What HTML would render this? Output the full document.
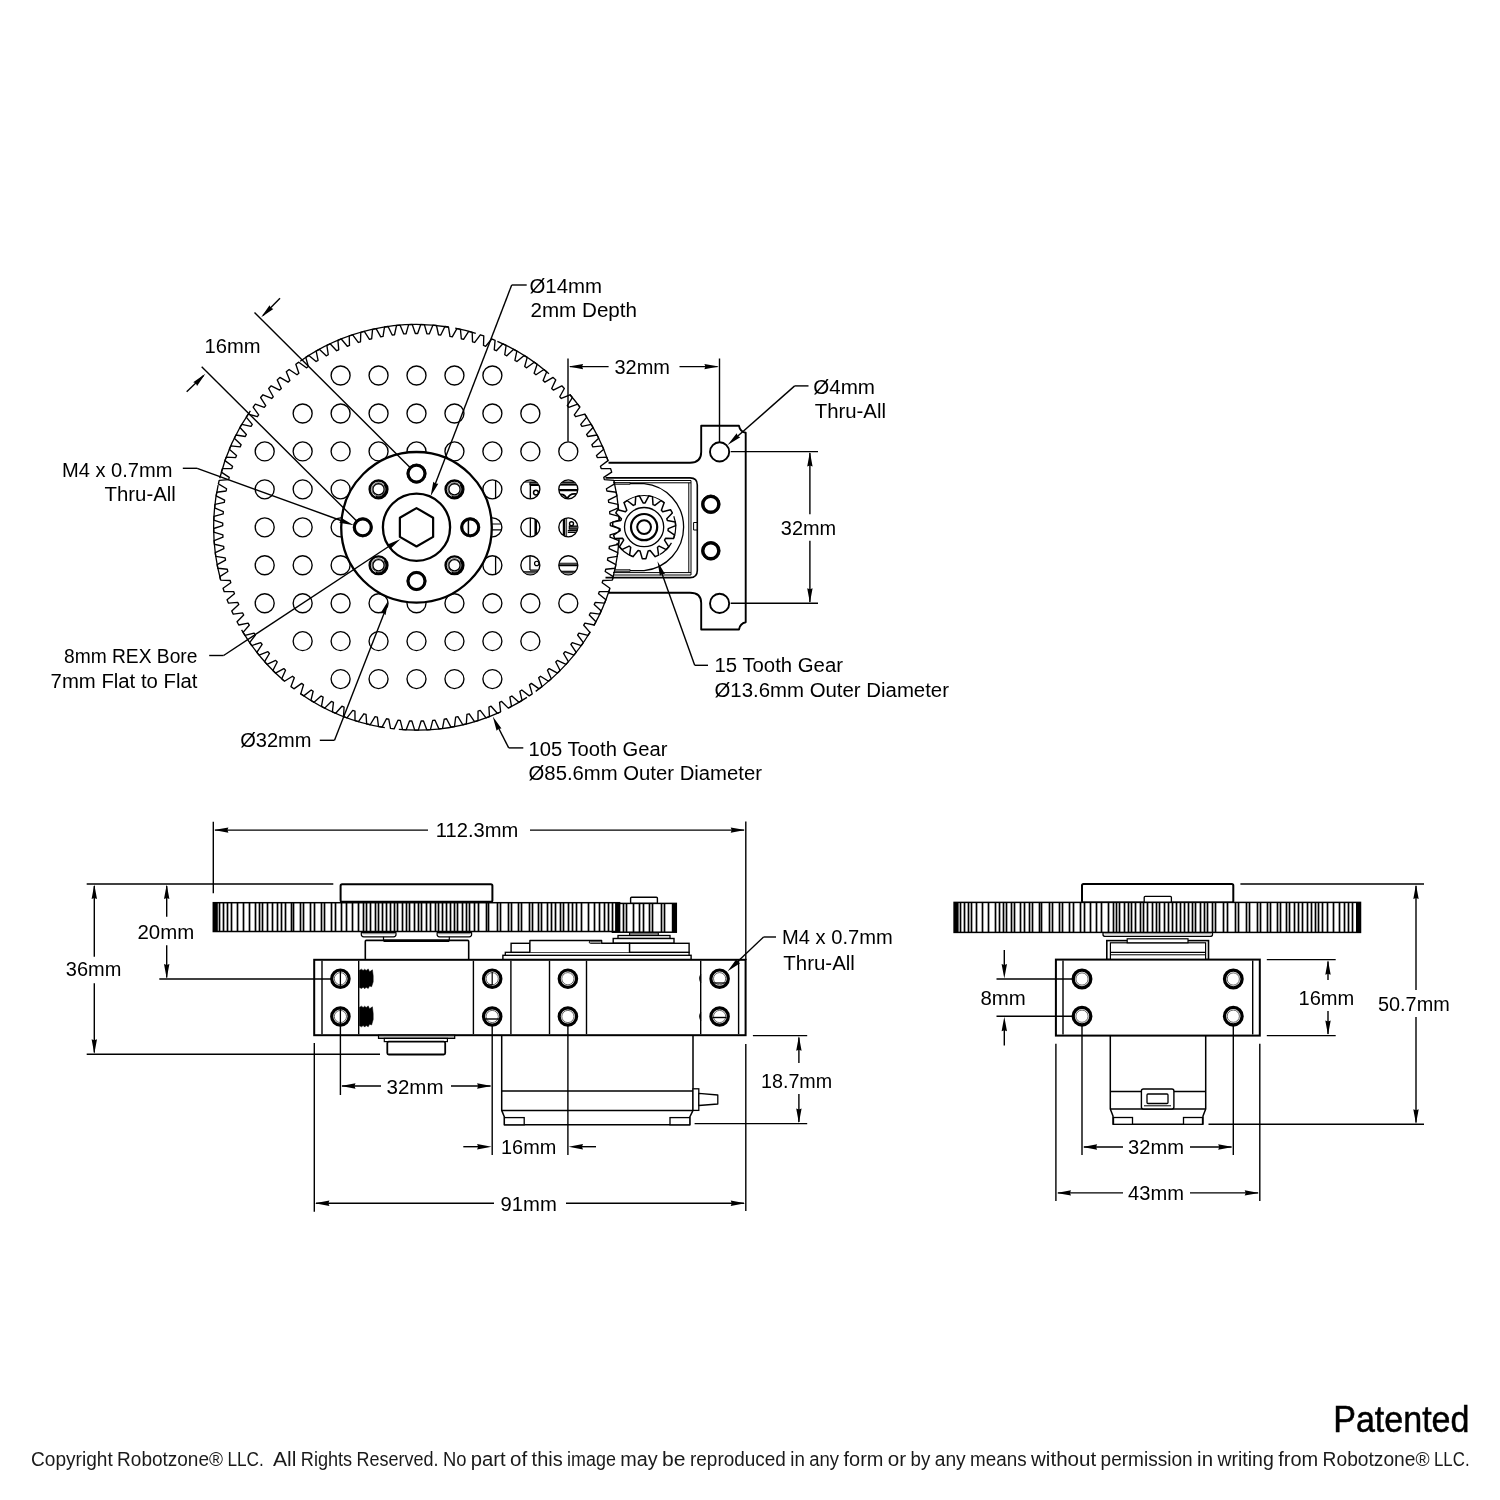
<!DOCTYPE html>
<html><head><meta charset="utf-8"><style>
html,body{margin:0;padding:0;background:#fff;}
svg{display:block;will-change:transform;}
text{-webkit-font-smoothing:antialiased;}
</style></head><body>
<svg width="1500" height="1500" viewBox="0 0 1500 1500">
<rect width="1500" height="1500" fill="#fff"/>
<path d="M417.66 333.5 L420.75 324.54 L424.39 324.65 L426.93 333.78 L429.25 333.92 L432.87 325.16 L436.49 325.49 L438.49 334.75 L440.79 335.03 L444.92 326.5 L448.52 327.04 L449.96 336.41 L452.24 336.82 L456.88 328.56 L460.44 329.32 L461.32 338.75 L463.57 339.3 L468.7 331.33 L472.2 332.3 L472.51 341.77 L474.73 342.46 L480.32 334.8 L483.77 335.98 L483.51 345.45 L485.68 346.27 L491.72 338.97 L495.09 340.35 L494.26 349.79 L496.38 350.73 L502.85 343.8 L506.13 345.38 L504.74 354.75 L506.8 355.82 L513.67 349.29 L516.85 351.07 L514.9 360.34 L516.89 361.53 L524.14 355.42 L527.21 357.38 L524.71 366.52 L526.63 367.83 L534.23 362.17 L537.17 364.31 L534.13 373.28 L535.97 374.7 L543.89 369.5 L546.7 371.82 L543.13 380.59 L544.88 382.12 L553.1 377.4 L555.77 379.88 L551.68 388.43 L553.33 390.06 L561.82 385.84 L564.33 388.47 L559.74 396.76 L561.29 398.49 L570.02 394.79 L572.37 397.56 L567.29 405.56 L568.74 407.38 L577.67 404.2 L579.85 407.12 L574.3 414.8 L575.64 416.7 L584.74 414.06 L586.75 417.1 L580.75 424.44 L581.97 426.41 L591.21 424.33 L593.03 427.48 L586.61 434.44 L587.71 436.49 L597.06 434.96 L598.69 438.22 L591.86 444.78 L592.83 446.89 L602.26 445.92 L603.69 449.27 L596.48 455.42 L597.32 457.58 L606.79 457.18 L608.02 460.61 L600.45 466.31 L601.17 468.52 L610.64 468.68 L611.67 472.18 L603.77 477.42 L604.35 479.67 L613.8 480.4 L614.61 483.95 L606.42 488.71 L606.87 490.99 L616.25 492.28 L616.85 495.87 L608.39 500.14 L608.7 502.44 L617.99 504.29 L618.37 507.91 L609.67 511.66 L609.84 513.97 L619.01 516.38 L619.17 520.02 L610.26 523.24 L610.29 525.56 L619.3 528.51 L619.24 532.15 L610.15 534.84 L610.05 537.15 L618.86 540.64 L618.59 544.27 L609.36 546.4 L609.11 548.71 L617.7 552.72 L617.21 556.33 L607.87 557.9 L607.49 560.19 L615.82 564.7 L615.12 568.28 L605.7 569.29 L605.18 571.55 L613.23 576.56 L612.31 580.08 L602.85 580.53 L602.2 582.76 L609.93 588.23 L608.8 591.7 L599.33 591.58 L598.55 593.77 L605.94 599.69 L604.61 603.08 L595.16 602.4 L594.25 604.53 L601.27 610.89 L599.74 614.2 L590.35 612.95 L589.31 615.02 L595.94 621.79 L594.21 625 L584.91 623.19 L583.75 625.2 L589.97 632.36 L588.05 635.45 L578.88 633.09 L577.6 635.03 L583.37 642.54 L581.28 645.52 L572.26 642.62 L570.87 644.47 L576.18 652.32 L573.91 655.16 L565.08 651.72 L563.58 653.49 L568.42 661.64 L565.99 664.35 L557.38 660.39 L555.77 662.06 L560.12 670.49 L557.52 673.04 L549.17 668.57 L547.47 670.15 L551.3 678.82 L548.55 681.21 L540.48 676.26 L538.69 677.73 L541.99 686.61 L539.11 688.84 L531.35 683.4 L529.47 684.77 L532.24 693.83 L529.23 695.88 L521.81 689.99 L519.85 691.24 L522.07 700.45 L518.95 702.32 L511.89 696 L509.86 697.13 L511.53 706.46 L508.3 708.13 L501.63 701.4 L499.54 702.41 L500.65 711.82 L497.32 713.3 L491.07 706.18 L488.92 707.06 L489.46 716.52 L486.05 717.8 L480.23 710.32 L478.04 711.07 L478.01 720.55 L474.53 721.62 L469.17 713.8 L466.94 714.42 L466.35 723.88 L462.81 724.74 L457.93 716.62 L455.66 717.1 L454.5 726.51 L450.92 727.16 L446.53 718.76 L444.24 719.1 L442.52 728.42 L438.9 728.86 L435.03 720.21 L432.72 720.42 L430.44 729.62 L426.81 729.84 L423.46 720.98 L421.14 721.04 L418.32 730.09 L414.68 730.09 L411.86 721.04 L409.54 720.98 L406.19 729.84 L402.56 729.62 L400.28 720.42 L397.97 720.21 L394.1 728.86 L390.48 728.42 L388.76 719.1 L386.47 718.76 L382.08 727.16 L378.5 726.51 L377.34 717.1 L375.07 716.62 L370.19 724.74 L366.65 723.88 L366.06 714.42 L363.83 713.8 L358.47 721.62 L354.99 720.55 L354.96 711.07 L352.77 710.32 L346.95 717.8 L343.54 716.52 L344.08 707.06 L341.93 706.18 L335.68 713.3 L332.35 711.82 L333.46 702.41 L331.37 701.4 L324.7 708.13 L321.47 706.46 L323.14 697.13 L321.11 696 L314.05 702.32 L310.93 700.45 L313.15 691.24 L311.19 689.99 L303.77 695.88 L300.76 693.83 L303.53 684.77 L301.65 683.4 L293.89 688.84 L291.01 686.61 L294.31 677.73 L292.52 676.26 L284.45 681.21 L281.7 678.82 L285.53 670.15 L283.83 668.57 L275.48 673.04 L272.88 670.49 L277.23 662.06 L275.62 660.39 L267.01 664.35 L264.58 661.64 L269.42 653.49 L267.92 651.72 L259.09 655.16 L256.82 652.32 L262.13 644.47 L260.74 642.62 L251.72 645.52 L249.63 642.54 L255.4 635.03 L254.12 633.09 L244.95 635.45 L243.03 632.36 L249.25 625.2 L248.09 623.19 L238.79 625 L237.06 621.79 L243.69 615.02 L242.65 612.95 L233.26 614.2 L231.73 610.89 L238.75 604.53 L237.84 602.4 L228.39 603.08 L227.06 599.69 L234.45 593.77 L233.67 591.58 L224.2 591.7 L223.07 588.23 L230.8 582.76 L230.15 580.53 L220.69 580.08 L219.77 576.56 L227.82 571.55 L227.3 569.29 L217.88 568.28 L217.18 564.7 L225.51 560.19 L225.13 557.9 L215.79 556.33 L215.3 552.72 L223.89 548.71 L223.64 546.4 L214.41 544.27 L214.14 540.64 L222.95 537.15 L222.85 534.84 L213.76 532.15 L213.7 528.51 L222.71 525.56 L222.74 523.24 L213.83 520.02 L213.99 516.38 L223.16 513.97 L223.33 511.66 L214.63 507.91 L215.01 504.29 L224.3 502.44 L224.61 500.14 L216.15 495.87 L216.75 492.28 L226.13 490.99 L226.58 488.71 L218.39 483.95 L219.2 480.4 L228.65 479.67 L229.23 477.42 L221.33 472.18 L222.36 468.68 L231.83 468.52 L232.55 466.31 L224.98 460.61 L226.21 457.18 L235.68 457.58 L236.52 455.42 L229.31 449.27 L230.74 445.92 L240.17 446.89 L241.14 444.78 L234.31 438.22 L235.94 434.96 L245.29 436.49 L246.39 434.44 L239.97 427.48 L241.79 424.33 L251.03 426.41 L252.25 424.44 L246.25 417.1 L248.26 414.06 L257.36 416.7 L258.7 414.8 L253.15 407.12 L255.33 404.2 L264.26 407.38 L265.71 405.56 L260.63 397.56 L262.98 394.79 L271.71 398.49 L273.26 396.76 L268.67 388.47 L271.18 385.84 L279.67 390.06 L281.32 388.43 L277.23 379.88 L279.9 377.4 L288.12 382.12 L289.87 380.59 L286.3 371.82 L289.11 369.5 L297.03 374.7 L298.87 373.28 L295.83 364.31 L298.77 362.17 L306.37 367.83 L308.29 366.52 L305.79 357.38 L308.86 355.42 L316.11 361.53 L318.1 360.34 L316.15 351.07 L319.33 349.29 L326.2 355.82 L328.26 354.75 L326.87 345.38 L330.15 343.8 L336.62 350.73 L338.74 349.79 L337.91 340.35 L341.28 338.97 L347.32 346.27 L349.49 345.45 L349.23 335.98 L352.68 334.8 L358.27 342.46 L360.49 341.77 L360.8 332.3 L364.3 331.33 L369.43 339.3 L371.68 338.75 L372.56 329.32 L376.12 328.56 L380.76 336.82 L383.04 336.41 L384.48 327.04 L388.08 326.5 L392.21 335.03 L394.51 334.75 L396.51 325.49 L400.13 325.16 L403.75 333.92 L406.07 333.78 L408.61 324.65 L412.25 324.54 L415.34 333.5 Z" fill="#fff" stroke="#000" stroke-width="1.35" stroke-linejoin="round"/>
<path d="M219.72 478.24 A202.8 202.8 0 0 1 250.38 410.98" fill="none" stroke="#000" stroke-width="1.3"/>
<path d="M300.18 361.18 A202.8 202.8 0 0 1 448.22 327" fill="none" stroke="#000" stroke-width="1.3"/>
<path d="M455.2 328.23 A202.8 202.8 0 0 1 475.79 333.36" fill="none" stroke="#000" stroke-width="1.3"/>
<path d="M497.37 341.32 A202.8 202.8 0 0 1 549.01 373.78" fill="none" stroke="#000" stroke-width="1.3"/>
<path d="M569.79 394.52 A202.8 202.8 0 0 1 579.94 407.24" fill="none" stroke="#000" stroke-width="1.3"/>
<path d="M584.63 413.9 A202.8 202.8 0 0 1 608.14 460.94" fill="none" stroke="#000" stroke-width="1.3"/>
<path d="M614.1 481.68 A202.8 202.8 0 0 1 612.39 579.79" fill="none" stroke="#000" stroke-width="1.3"/>
<path d="M609.37 589.97 A202.8 202.8 0 0 1 593.87 625.62" fill="none" stroke="#000" stroke-width="1.3"/>
<path d="M590.33 631.75 A202.8 202.8 0 0 1 535.7 691.37" fill="none" stroke="#000" stroke-width="1.3"/>
<path d="M526.95 697.38 A202.8 202.8 0 0 1 508.57 708" fill="none" stroke="#000" stroke-width="1.3"/>
<path d="M498.99 712.57 A202.8 202.8 0 0 1 398.82 729.33" fill="none" stroke="#000" stroke-width="1.3"/>
<path d="M384.78 727.6 A202.8 202.8 0 0 1 300.18 693.42" fill="none" stroke="#000" stroke-width="1.3"/>
<path d="M283.45 680.36 A202.8 202.8 0 0 1 241.58 629.92" fill="none" stroke="#000" stroke-width="1.3"/>
<path d="M220.61 579.79 A202.8 202.8 0 0 1 218.13 485.14" fill="none" stroke="#000" stroke-width="1.3"/>
<circle cx="340.6" cy="375.5" r="9.5" fill="none" stroke="#000" stroke-width="1.35"/>
<circle cx="378.55" cy="375.5" r="9.5" fill="none" stroke="#000" stroke-width="1.35"/>
<circle cx="416.5" cy="375.5" r="9.5" fill="none" stroke="#000" stroke-width="1.35"/>
<circle cx="454.45" cy="375.5" r="9.5" fill="none" stroke="#000" stroke-width="1.35"/>
<circle cx="492.4" cy="375.5" r="9.5" fill="none" stroke="#000" stroke-width="1.35"/>
<circle cx="302.65" cy="413.45" r="9.5" fill="none" stroke="#000" stroke-width="1.35"/>
<circle cx="340.6" cy="413.45" r="9.5" fill="none" stroke="#000" stroke-width="1.35"/>
<circle cx="378.55" cy="413.45" r="9.5" fill="none" stroke="#000" stroke-width="1.35"/>
<circle cx="416.5" cy="413.45" r="9.5" fill="none" stroke="#000" stroke-width="1.35"/>
<circle cx="454.45" cy="413.45" r="9.5" fill="none" stroke="#000" stroke-width="1.35"/>
<circle cx="492.4" cy="413.45" r="9.5" fill="none" stroke="#000" stroke-width="1.35"/>
<circle cx="530.35" cy="413.45" r="9.5" fill="none" stroke="#000" stroke-width="1.35"/>
<circle cx="264.7" cy="451.4" r="9.5" fill="none" stroke="#000" stroke-width="1.35"/>
<circle cx="302.65" cy="451.4" r="9.5" fill="none" stroke="#000" stroke-width="1.35"/>
<circle cx="340.6" cy="451.4" r="9.5" fill="none" stroke="#000" stroke-width="1.35"/>
<circle cx="378.55" cy="451.4" r="9.5" fill="none" stroke="#000" stroke-width="1.35"/>
<circle cx="416.5" cy="451.4" r="9.5" fill="none" stroke="#000" stroke-width="1.35"/>
<circle cx="454.45" cy="451.4" r="9.5" fill="none" stroke="#000" stroke-width="1.35"/>
<circle cx="492.4" cy="451.4" r="9.5" fill="none" stroke="#000" stroke-width="1.35"/>
<circle cx="530.35" cy="451.4" r="9.5" fill="none" stroke="#000" stroke-width="1.35"/>
<circle cx="568.3" cy="451.4" r="9.5" fill="none" stroke="#000" stroke-width="1.35"/>
<circle cx="264.7" cy="489.35" r="9.5" fill="none" stroke="#000" stroke-width="1.35"/>
<circle cx="302.65" cy="489.35" r="9.5" fill="none" stroke="#000" stroke-width="1.35"/>
<circle cx="340.6" cy="489.35" r="9.5" fill="none" stroke="#000" stroke-width="1.35"/>
<circle cx="378.55" cy="489.35" r="9.5" fill="none" stroke="#000" stroke-width="1.35"/>
<circle cx="416.5" cy="489.35" r="9.5" fill="none" stroke="#000" stroke-width="1.35"/>
<circle cx="454.45" cy="489.35" r="9.5" fill="none" stroke="#000" stroke-width="1.35"/>
<circle cx="492.4" cy="489.35" r="9.5" fill="none" stroke="#000" stroke-width="1.35"/>
<circle cx="530.35" cy="489.35" r="9.5" fill="none" stroke="#000" stroke-width="1.35"/>
<circle cx="568.3" cy="489.35" r="9.5" fill="none" stroke="#000" stroke-width="1.35"/>
<circle cx="264.7" cy="527.3" r="9.5" fill="none" stroke="#000" stroke-width="1.35"/>
<circle cx="302.65" cy="527.3" r="9.5" fill="none" stroke="#000" stroke-width="1.35"/>
<circle cx="340.6" cy="527.3" r="9.5" fill="none" stroke="#000" stroke-width="1.35"/>
<circle cx="378.55" cy="527.3" r="9.5" fill="none" stroke="#000" stroke-width="1.35"/>
<circle cx="416.5" cy="527.3" r="9.5" fill="none" stroke="#000" stroke-width="1.35"/>
<circle cx="454.45" cy="527.3" r="9.5" fill="none" stroke="#000" stroke-width="1.35"/>
<circle cx="492.4" cy="527.3" r="9.5" fill="none" stroke="#000" stroke-width="1.35"/>
<circle cx="530.35" cy="527.3" r="9.5" fill="none" stroke="#000" stroke-width="1.35"/>
<circle cx="568.3" cy="527.3" r="9.5" fill="none" stroke="#000" stroke-width="1.35"/>
<circle cx="264.7" cy="565.25" r="9.5" fill="none" stroke="#000" stroke-width="1.35"/>
<circle cx="302.65" cy="565.25" r="9.5" fill="none" stroke="#000" stroke-width="1.35"/>
<circle cx="340.6" cy="565.25" r="9.5" fill="none" stroke="#000" stroke-width="1.35"/>
<circle cx="378.55" cy="565.25" r="9.5" fill="none" stroke="#000" stroke-width="1.35"/>
<circle cx="416.5" cy="565.25" r="9.5" fill="none" stroke="#000" stroke-width="1.35"/>
<circle cx="454.45" cy="565.25" r="9.5" fill="none" stroke="#000" stroke-width="1.35"/>
<circle cx="492.4" cy="565.25" r="9.5" fill="none" stroke="#000" stroke-width="1.35"/>
<circle cx="530.35" cy="565.25" r="9.5" fill="none" stroke="#000" stroke-width="1.35"/>
<circle cx="568.3" cy="565.25" r="9.5" fill="none" stroke="#000" stroke-width="1.35"/>
<circle cx="264.7" cy="603.2" r="9.5" fill="none" stroke="#000" stroke-width="1.35"/>
<circle cx="302.65" cy="603.2" r="9.5" fill="none" stroke="#000" stroke-width="1.35"/>
<circle cx="340.6" cy="603.2" r="9.5" fill="none" stroke="#000" stroke-width="1.35"/>
<circle cx="378.55" cy="603.2" r="9.5" fill="none" stroke="#000" stroke-width="1.35"/>
<circle cx="416.5" cy="603.2" r="9.5" fill="none" stroke="#000" stroke-width="1.35"/>
<circle cx="454.45" cy="603.2" r="9.5" fill="none" stroke="#000" stroke-width="1.35"/>
<circle cx="492.4" cy="603.2" r="9.5" fill="none" stroke="#000" stroke-width="1.35"/>
<circle cx="530.35" cy="603.2" r="9.5" fill="none" stroke="#000" stroke-width="1.35"/>
<circle cx="568.3" cy="603.2" r="9.5" fill="none" stroke="#000" stroke-width="1.35"/>
<circle cx="302.65" cy="641.15" r="9.5" fill="none" stroke="#000" stroke-width="1.35"/>
<circle cx="340.6" cy="641.15" r="9.5" fill="none" stroke="#000" stroke-width="1.35"/>
<circle cx="378.55" cy="641.15" r="9.5" fill="none" stroke="#000" stroke-width="1.35"/>
<circle cx="416.5" cy="641.15" r="9.5" fill="none" stroke="#000" stroke-width="1.35"/>
<circle cx="454.45" cy="641.15" r="9.5" fill="none" stroke="#000" stroke-width="1.35"/>
<circle cx="492.4" cy="641.15" r="9.5" fill="none" stroke="#000" stroke-width="1.35"/>
<circle cx="530.35" cy="641.15" r="9.5" fill="none" stroke="#000" stroke-width="1.35"/>
<circle cx="340.6" cy="679.1" r="9.5" fill="none" stroke="#000" stroke-width="1.35"/>
<circle cx="378.55" cy="679.1" r="9.5" fill="none" stroke="#000" stroke-width="1.35"/>
<circle cx="416.5" cy="679.1" r="9.5" fill="none" stroke="#000" stroke-width="1.35"/>
<circle cx="454.45" cy="679.1" r="9.5" fill="none" stroke="#000" stroke-width="1.35"/>
<circle cx="492.4" cy="679.1" r="9.5" fill="none" stroke="#000" stroke-width="1.35"/>
<defs>
<clipPath id="h20"><circle cx="492.4" cy="489.35" r="9.3"/></clipPath>
<clipPath id="h30"><circle cx="530.35" cy="489.35" r="9.3"/></clipPath>
<clipPath id="h40"><circle cx="568.3" cy="489.35" r="9.3"/></clipPath>
<clipPath id="h21"><circle cx="492.4" cy="527.3" r="9.3"/></clipPath>
<clipPath id="h31"><circle cx="530.35" cy="527.3" r="9.3"/></clipPath>
<clipPath id="h41"><circle cx="568.3" cy="527.3" r="9.3"/></clipPath>
<clipPath id="h22"><circle cx="492.4" cy="565.25" r="9.3"/></clipPath>
<clipPath id="h32"><circle cx="530.35" cy="565.25" r="9.3"/></clipPath>
<clipPath id="h42"><circle cx="568.3" cy="565.25" r="9.3"/></clipPath>
</defs>
<g clip-path="url(#h20)">
<line x1="495.6" y1="477.35" x2="495.6" y2="501.35" stroke="#000" stroke-width="1.3"/>
</g>
<g clip-path="url(#h22)">
<line x1="495.6" y1="553.25" x2="495.6" y2="577.25" stroke="#000" stroke-width="1.3"/>
</g>
<g clip-path="url(#h21)">
<line x1="482.4" y1="524" x2="504.4" y2="524" stroke="#000" stroke-width="1.2"/>
<line x1="482.4" y1="529.9" x2="504.4" y2="529.9" stroke="#000" stroke-width="1.2"/>
</g>
<g clip-path="url(#h30)">
<line x1="518.35" y1="482.05" x2="542.35" y2="482.05" stroke="#000" stroke-width="1.1"/>
<rect x="529.95" y="482.75" width="12.4" height="1.9" rx="0" fill="#8a8a8a" stroke="#000" stroke-width="1.2"/>
<line x1="529.95" y1="485.15" x2="542.35" y2="485.15" stroke="#000" stroke-width="1.6"/>
<line x1="530.35" y1="485.15" x2="530.35" y2="501.35" stroke="#000" stroke-width="1.4"/>
</g>
<circle cx="535.95" cy="492.55" r="2.4" fill="none" stroke="#000" stroke-width="1.5"/>
<g clip-path="url(#h31)">
<line x1="530.35" y1="515.3" x2="530.35" y2="539.3" stroke="#000" stroke-width="1.3"/>
<line x1="535.75" y1="515.3" x2="535.75" y2="539.3" stroke="#000" stroke-width="2.6"/>
</g>
<g clip-path="url(#h32)">
<line x1="529.95" y1="553.25" x2="529.95" y2="570.05" stroke="#000" stroke-width="1.3"/>
<line x1="529.95" y1="570.05" x2="542.35" y2="570.05" stroke="#000" stroke-width="1.3"/>
<rect x="518.35" y="571.85" width="24" height="5.4" rx="0" fill="#8a8a8a" stroke="#000" stroke-width="1.2"/>
</g>
<circle cx="536.75" cy="563.45" r="2.2" fill="none" stroke="#000" stroke-width="1.2"/>
<g clip-path="url(#h40)">
<line x1="556.3" y1="482.05" x2="580.3" y2="482.05" stroke="#000" stroke-width="1.1"/>
<rect x="556.3" y="482.75" width="24" height="1.9" rx="0" fill="#8a8a8a" stroke="#000" stroke-width="1.2"/>
<line x1="556.3" y1="484.95" x2="580.3" y2="484.95" stroke="#000" stroke-width="1.2"/>
<line x1="556.3" y1="490.1" x2="580.3" y2="490.1" stroke="#000" stroke-width="2.4"/>
</g>
<g clip-path="url(#h40)"><path d="M558.3 494.85 Q564.3 492.85 567.1 499.15 Q569.3 493.35 575.3 493.85 L578.3 496.35" fill="none" stroke="#000" stroke-width="1.8"/></g>
<g clip-path="url(#h41)">
<line x1="564.1" y1="515.3" x2="564.1" y2="539.3" stroke="#000" stroke-width="2.6"/>
<line x1="566.6" y1="515.3" x2="566.6" y2="539.3" stroke="#000" stroke-width="0.8"/>
<line x1="567.8" y1="530.5" x2="580.3" y2="530.5" stroke="#000" stroke-width="1.0"/>
<line x1="567.8" y1="532.2" x2="580.3" y2="532.2" stroke="#000" stroke-width="1.5"/>
<rect x="569.3" y="526.1" width="11" height="3" rx="0" fill="#555" stroke="#000" stroke-width="1.2"/>
</g>
<circle cx="571.5" cy="523.7" r="2" fill="none" stroke="#000" stroke-width="1.4"/>
<g clip-path="url(#h42)">
<line x1="556.3" y1="563.25" x2="580.3" y2="563.25" stroke="#000" stroke-width="1.1"/>
<line x1="556.3" y1="565.25" x2="580.3" y2="565.25" stroke="#000" stroke-width="2.2"/>
<line x1="556.3" y1="571.25" x2="580.3" y2="571.25" stroke="#000" stroke-width="1.2"/>
<rect x="556.3" y="572.05" width="24" height="5.2" rx="0" fill="#8a8a8a" stroke="#000" stroke-width="1.2"/>
</g>
<circle cx="416.5" cy="527.3" r="75.3" fill="#fff" stroke="#000" stroke-width="2.3"/>
<circle cx="416.5" cy="527.3" r="33.6" fill="none" stroke="#000" stroke-width="2.3"/>
<path d="M416.5 508.1 L433.13 517.7 L433.13 536.9 L416.5 546.5 L399.87 536.9 L399.87 517.7 Z" fill="none" stroke="#000" stroke-width="2.2" stroke-linejoin="round"/>
<circle cx="470.2" cy="527.3" r="8.4" fill="none" stroke="#000" stroke-width="3.0"/>
<circle cx="470.2" cy="527.3" r="9.6" fill="none" stroke="#000" stroke-width="0.8"/>
<line x1="468.4" y1="520.3" x2="468.4" y2="534.3" stroke="#000" stroke-width="1.5"/>
<circle cx="454.47" cy="565.27" r="8.9" fill="none" stroke="#000" stroke-width="2.4"/>
<circle cx="454.47" cy="565.27" r="5.6" fill="none" stroke="#000" stroke-width="1.3"/>
<circle cx="454.47" cy="565.27" r="6.7" fill="none" stroke="#000" stroke-width="0.6"/>
<path d="M460.52 560.19 A7.9 7.9 0 0 1 451.77 572.7" fill="none" stroke="#000" stroke-width="2.2"/>
<circle cx="416.5" cy="581" r="8.4" fill="none" stroke="#000" stroke-width="3.0"/>
<circle cx="416.5" cy="581" r="9.6" fill="none" stroke="#000" stroke-width="0.8"/>
<circle cx="378.53" cy="565.27" r="8.9" fill="none" stroke="#000" stroke-width="2.4"/>
<circle cx="378.53" cy="565.27" r="5.6" fill="none" stroke="#000" stroke-width="1.3"/>
<circle cx="378.53" cy="565.27" r="6.7" fill="none" stroke="#000" stroke-width="0.6"/>
<path d="M384.58 560.19 A7.9 7.9 0 0 1 375.83 572.7" fill="none" stroke="#000" stroke-width="2.2"/>
<circle cx="362.8" cy="527.3" r="8.4" fill="none" stroke="#000" stroke-width="3.0"/>
<circle cx="362.8" cy="527.3" r="9.6" fill="none" stroke="#000" stroke-width="0.8"/>
<circle cx="378.53" cy="489.33" r="8.9" fill="none" stroke="#000" stroke-width="2.4"/>
<circle cx="378.53" cy="489.33" r="5.6" fill="none" stroke="#000" stroke-width="1.3"/>
<circle cx="378.53" cy="489.33" r="6.7" fill="none" stroke="#000" stroke-width="0.6"/>
<path d="M384.58 484.25 A7.9 7.9 0 0 1 375.83 496.75" fill="none" stroke="#000" stroke-width="2.2"/>
<circle cx="416.5" cy="473.6" r="8.4" fill="none" stroke="#000" stroke-width="3.0"/>
<circle cx="416.5" cy="473.6" r="9.6" fill="none" stroke="#000" stroke-width="0.8"/>
<circle cx="454.47" cy="489.33" r="8.9" fill="none" stroke="#000" stroke-width="2.4"/>
<circle cx="454.47" cy="489.33" r="5.6" fill="none" stroke="#000" stroke-width="1.3"/>
<circle cx="454.47" cy="489.33" r="6.7" fill="none" stroke="#000" stroke-width="0.6"/>
<path d="M460.52 484.25 A7.9 7.9 0 0 1 451.77 496.75" fill="none" stroke="#000" stroke-width="2.2"/>
<path d="M608.5 462.7 L690 462.7 Q701.2 462.7 701.2 452 L701.2 425.8 L739 425.8 Q740 431.5 745.7 432.8 L745.7 622.3 Q740 623.5 739 629.5 L701.2 629.5 L701.2 603 Q701.2 592.7 690 592.7 L608.5 592.7" fill="none" stroke="#000" stroke-width="1.9" stroke-linejoin="round"/>
<path d="M605.5 477.9 L690 477.9 Q697.3 477.9 697.3 485 L697.3 570.5 Q697.3 577.6 690 577.6 L605.5 577.6" fill="none" stroke="#000" stroke-width="1.6" stroke-linejoin="round"/>
<line x1="613" y1="480.5" x2="691" y2="480.5" stroke="#000" stroke-width="1.0"/>
<line x1="613" y1="482.8" x2="691" y2="482.8" stroke="#000" stroke-width="1.0"/>
<line x1="613" y1="572.6" x2="691" y2="572.6" stroke="#000" stroke-width="1.0"/>
<line x1="613" y1="575" x2="691" y2="575" stroke="#000" stroke-width="1.0"/>
<line x1="688.8" y1="482.8" x2="688.8" y2="572.6" stroke="#000" stroke-width="1.0"/>
<line x1="691" y1="480.5" x2="691" y2="575" stroke="#000" stroke-width="1.0"/>
<line x1="693.6" y1="522.5" x2="697" y2="522.5" stroke="#000" stroke-width="1.0"/>
<line x1="693.6" y1="530" x2="697" y2="530" stroke="#000" stroke-width="1.0"/>
<line x1="693.6" y1="522.5" x2="693.6" y2="530" stroke="#000" stroke-width="1.0"/>
<path d="M629 483.6 L644.1 483.6 A43.7 43.7 0 0 1 644.1 570.6 L629 570.6" fill="none" stroke="#000" stroke-width="1.3"/>
<rect x="615" y="482.6" width="15" height="2" rx="0" fill="#888" stroke="#000" stroke-width="0.6"/>
<rect x="615" y="569.6" width="15" height="2" rx="0" fill="#888" stroke="#000" stroke-width="0.6"/>
<path d="M645.11 502.92 L648.85 495.86 L652.47 496.63 L653.01 504.6 L654.86 505.42 L661.14 500.49 L664.14 502.67 L661.39 510.17 L662.75 511.67 L670.49 509.72 L672.35 512.93 L666.78 518.66 L667.41 520.59 L675.28 521.96 L675.67 525.64 L668.25 528.62 L668.04 530.64 L674.67 535.09 L673.53 538.61 L665.55 538.31 L664.53 540.07 L668.78 546.83 L666.3 549.58 L659.13 546.07 L657.49 547.26 L658.62 555.17 L655.24 556.67 L650.12 550.54 L648.14 550.96 L645.95 558.65 L642.25 558.65 L640.06 550.96 L638.08 550.54 L632.96 556.67 L629.58 555.17 L630.71 547.26 L629.07 546.07 L621.9 549.58 L619.42 546.83 L623.67 540.07 L622.65 538.31 L614.67 538.61 L613.53 535.09 L620.16 530.64 L619.95 528.62 L612.53 525.64 L612.92 521.96 L620.79 520.59 L621.42 518.66 L615.85 512.93 L617.71 509.72 L625.45 511.67 L626.81 510.17 L624.06 502.67 L627.06 500.49 L633.34 505.42 L635.19 504.6 L635.73 496.63 L639.35 495.86 L643.09 502.92 Z" fill="#fff" stroke="#000" stroke-width="1.5" stroke-linejoin="round"/>
<path d="M623.79 502.89 A31.6 31.6 0 0 1 664.41 502.89" fill="none" stroke="#000" stroke-width="1.2"/>
<path d="M673.79 516.29 A31.6 31.6 0 0 1 673.79 537.91" fill="none" stroke="#000" stroke-width="1.2"/>
<path d="M671.47 542.9 A31.6 31.6 0 0 1 659.9 554.47" fill="none" stroke="#000" stroke-width="1.2"/>
<path d="M633.29 556.79 A31.6 31.6 0 0 1 616.73 542.9" fill="none" stroke="#000" stroke-width="1.2"/>
<circle cx="644.1" cy="527.1" r="19.6" fill="none" stroke="#000" stroke-width="1.3"/>
<circle cx="644.1" cy="527.1" r="13.1" fill="none" stroke="#000" stroke-width="2.2"/>
<circle cx="644.1" cy="527.1" r="6.9" fill="none" stroke="#000" stroke-width="2.0"/>
<circle cx="719.6" cy="451.9" r="9.6" fill="none" stroke="#000" stroke-width="1.9"/>
<circle cx="719.6" cy="603.4" r="9.6" fill="none" stroke="#000" stroke-width="1.9"/>
<circle cx="710.8" cy="504.3" r="7.9" fill="none" stroke="#000" stroke-width="3.2"/>
<circle cx="710.8" cy="504.3" r="9.3" fill="none" stroke="#000" stroke-width="0.8"/>
<circle cx="710.8" cy="550.8" r="7.9" fill="none" stroke="#000" stroke-width="3.2"/>
<circle cx="710.8" cy="550.8" r="9.3" fill="none" stroke="#000" stroke-width="0.8"/>
<line x1="526.7" y1="285" x2="511.7" y2="285" stroke="#000" stroke-width="1.4"/>
<line x1="511.7" y1="285" x2="433.5" y2="488.6" stroke="#000" stroke-width="1.4"/>
<path d="M430.6 496.2 L433.29 481.7 L435.45 483.62 L438.33 483.64 Z" fill="#000" stroke="none"/>
<text x="529.5" y="292.5" font-size="20" font-family="Liberation Sans" fill="#000" font-weight="normal" text-anchor="start" textLength="72.5" lengthAdjust="spacingAndGlyphs">Ø14mm</text>
<text x="530.5" y="317" font-size="20" font-family="Liberation Sans" fill="#000" font-weight="normal" text-anchor="start" textLength="106.5" lengthAdjust="spacingAndGlyphs">2mm Depth</text>
<line x1="254.5" y1="312.5" x2="410.8" y2="468.2" stroke="#000" stroke-width="1.4"/>
<line x1="201.7" y1="366.7" x2="357.4" y2="521.7" stroke="#000" stroke-width="1.4"/>
<line x1="280" y1="298.3" x2="263" y2="315.5" stroke="#000" stroke-width="1.4"/>
<path d="M261.2 317.3 L269.54 305.14 L270.74 307.76 L273.36 308.96 Z" fill="#000" stroke="none"/>
<line x1="186.7" y1="391.7" x2="203.6" y2="375.6" stroke="#000" stroke-width="1.4"/>
<path d="M205.4 373.8 L197.06 385.96 L195.86 383.34 L193.24 382.14 Z" fill="#000" stroke="none"/>
<text x="204.5" y="352.5" font-size="20" font-family="Liberation Sans" fill="#000" font-weight="normal" text-anchor="start" textLength="56" lengthAdjust="spacingAndGlyphs">16mm</text>
<line x1="568" y1="358.5" x2="568" y2="441.5" stroke="#000" stroke-width="1.4"/>
<line x1="719.5" y1="358.5" x2="719.5" y2="442.2" stroke="#000" stroke-width="1.4"/>
<line x1="570" y1="366.6" x2="608.6" y2="366.6" stroke="#000" stroke-width="1.4"/>
<path d="M568.6 366.6 L583.1 363.9 L582.09 366.6 L583.1 369.3 Z" fill="#000" stroke="none"/>
<line x1="679.5" y1="366.6" x2="717.5" y2="366.6" stroke="#000" stroke-width="1.4"/>
<path d="M718.9 366.6 L704.4 369.3 L705.41 366.6 L704.4 363.9 Z" fill="#000" stroke="none"/>
<text x="614.5" y="374" font-size="20" font-family="Liberation Sans" fill="#000" font-weight="normal" text-anchor="start" textLength="55.5" lengthAdjust="spacingAndGlyphs">32mm</text>
<line x1="808.5" y1="385.9" x2="794.7" y2="385.9" stroke="#000" stroke-width="1.4"/>
<line x1="794.7" y1="385.9" x2="735" y2="438.5" stroke="#000" stroke-width="1.4"/>
<path d="M727.6 444.9 L736.71 433.3 L737.73 436 L740.27 437.35 Z" fill="#000" stroke="none"/>
<text x="813.2" y="393.5" font-size="20" font-family="Liberation Sans" fill="#000" font-weight="normal" text-anchor="start" textLength="61.8" lengthAdjust="spacingAndGlyphs">Ø4mm</text>
<text x="814.7" y="418.2" font-size="20" font-family="Liberation Sans" fill="#000" font-weight="normal" text-anchor="start" textLength="71.3" lengthAdjust="spacingAndGlyphs">Thru-All</text>
<line x1="730.7" y1="451.6" x2="818" y2="451.6" stroke="#000" stroke-width="1.4"/>
<line x1="730.7" y1="603.3" x2="818" y2="603.3" stroke="#000" stroke-width="1.4"/>
<line x1="809.9" y1="453" x2="809.9" y2="514.2" stroke="#000" stroke-width="1.4"/>
<path d="M809.9 452 L812.6 466.5 L809.9 465.49 L807.2 466.5 Z" fill="#000" stroke="none"/>
<line x1="809.9" y1="540.8" x2="809.9" y2="602" stroke="#000" stroke-width="1.4"/>
<path d="M809.9 602.8 L807.2 588.3 L809.9 589.31 L812.6 588.3 Z" fill="#000" stroke="none"/>
<text x="780.8" y="535" font-size="20" font-family="Liberation Sans" fill="#000" font-weight="normal" text-anchor="start" textLength="55.4" lengthAdjust="spacingAndGlyphs">32mm</text>
<text x="62" y="476.7" font-size="20" font-family="Liberation Sans" fill="#000" font-weight="normal" text-anchor="start" textLength="110.5" lengthAdjust="spacingAndGlyphs">M4 x 0.7mm</text>
<text x="104.5" y="501.3" font-size="20" font-family="Liberation Sans" fill="#000" font-weight="normal" text-anchor="start" textLength="71.3" lengthAdjust="spacingAndGlyphs">Thru-All</text>
<line x1="182.8" y1="468.3" x2="197.2" y2="468.3" stroke="#000" stroke-width="1.4"/>
<line x1="197.2" y1="468.3" x2="345" y2="522" stroke="#000" stroke-width="1.4"/>
<path d="M353.8 525.2 L339.25 522.79 L341.13 520.59 L341.09 517.71 Z" fill="#000" stroke="none"/>
<text x="64" y="662.8" font-size="20" font-family="Liberation Sans" fill="#000" font-weight="normal" text-anchor="start" textLength="133.4" lengthAdjust="spacingAndGlyphs">8mm REX Bore</text>
<text x="50.6" y="687.8" font-size="20" font-family="Liberation Sans" fill="#000" font-weight="normal" text-anchor="start" textLength="146.8" lengthAdjust="spacingAndGlyphs">7mm Flat to Flat</text>
<line x1="209.2" y1="655.5" x2="223.6" y2="655.5" stroke="#000" stroke-width="1.4"/>
<line x1="223.6" y1="655.5" x2="394" y2="543" stroke="#000" stroke-width="1.4"/>
<path d="M400.6 538.9 L389.98 549.13 L389.34 546.32 L387.01 544.63 Z" fill="#000" stroke="none"/>
<text x="240.2" y="747.4" font-size="20" font-family="Liberation Sans" fill="#000" font-weight="normal" text-anchor="start" textLength="71.3" lengthAdjust="spacingAndGlyphs">Ø32mm</text>
<line x1="319.8" y1="740.3" x2="334.5" y2="740.3" stroke="#000" stroke-width="1.4"/>
<line x1="334.5" y1="740.3" x2="384.2" y2="613" stroke="#000" stroke-width="1.4"/>
<path d="M388.3 600.6 L385.55 615.09 L383.4 613.16 L380.52 613.13 Z" fill="#000" stroke="none"/>
<text x="714.5" y="672.2" font-size="20" font-family="Liberation Sans" fill="#000" font-weight="normal" text-anchor="start" textLength="128.5" lengthAdjust="spacingAndGlyphs">15 Tooth Gear</text>
<text x="714.5" y="696.7" font-size="20" font-family="Liberation Sans" fill="#000" font-weight="normal" text-anchor="start" textLength="234.5" lengthAdjust="spacingAndGlyphs">Ø13.6mm Outer Diameter</text>
<line x1="708" y1="665.3" x2="694.7" y2="665.3" stroke="#000" stroke-width="1.4"/>
<line x1="694.7" y1="665.3" x2="660.5" y2="569.5" stroke="#000" stroke-width="1.4"/>
<path d="M657.5 561.2 L664.94 573.93 L662.06 573.89 L659.86 575.76 Z" fill="#000" stroke="none"/>
<text x="528.6" y="755.5" font-size="20" font-family="Liberation Sans" fill="#000" font-weight="normal" text-anchor="start" textLength="138.8" lengthAdjust="spacingAndGlyphs">105 Tooth Gear</text>
<text x="528.6" y="780" font-size="20" font-family="Liberation Sans" fill="#000" font-weight="normal" text-anchor="start" textLength="233.4" lengthAdjust="spacingAndGlyphs">Ø85.6mm Outer Diameter</text>
<line x1="523.3" y1="747.9" x2="508.7" y2="747.9" stroke="#000" stroke-width="1.4"/>
<line x1="508.7" y1="747.9" x2="496.5" y2="724" stroke="#000" stroke-width="1.4"/>
<path d="M492.8 716.5 L501.49 728.42 L498.62 728.67 L496.62 730.75 Z" fill="#000" stroke="none"/>
<rect x="340.6" y="884.2" width="151.8" height="17.6" rx="1.5" fill="#fff" stroke="#000" stroke-width="2.0"/>
<rect x="630.6" y="897.2" width="26.8" height="6.2" rx="1" fill="#fff" stroke="#000" stroke-width="1.4"/>
<rect x="612.4" y="903.4" width="63.9" height="28.8" rx="0" fill="#fff" stroke="#000" stroke-width="1.5"/>
<line x1="623.5" y1="903.4" x2="623.5" y2="932.2" stroke="#000" stroke-width="1.7"/>
<line x1="626.5" y1="903.4" x2="626.5" y2="932.2" stroke="#000" stroke-width="1.7"/>
<line x1="633.5" y1="903.4" x2="633.5" y2="932.2" stroke="#000" stroke-width="1.7"/>
<line x1="639.5" y1="903.4" x2="639.5" y2="932.2" stroke="#000" stroke-width="1.7"/>
<line x1="643.5" y1="903.4" x2="643.5" y2="932.2" stroke="#000" stroke-width="1.7"/>
<line x1="649.5" y1="903.4" x2="649.5" y2="932.2" stroke="#000" stroke-width="1.7"/>
<line x1="652.5" y1="903.4" x2="652.5" y2="932.2" stroke="#000" stroke-width="1.7"/>
<line x1="661.5" y1="903.4" x2="661.5" y2="932.2" stroke="#000" stroke-width="1.7"/>
<line x1="664.5" y1="903.4" x2="664.5" y2="932.2" stroke="#000" stroke-width="1.7"/>
<rect x="612.4" y="903.4" width="4.5" height="28.8" fill="#000"/>
<rect x="671.8" y="903.4" width="4.5" height="28.8" fill="#000"/>
<rect x="213.3" y="902.7" width="406.3" height="28.8" rx="0" fill="#fff" stroke="#000" stroke-width="1.5"/>
<line x1="219.5" y1="902.7" x2="219.5" y2="931.5" stroke="#000" stroke-width="1.7"/>
<line x1="223.5" y1="902.7" x2="223.5" y2="931.5" stroke="#000" stroke-width="1.7"/>
<line x1="227.5" y1="902.7" x2="227.5" y2="931.5" stroke="#000" stroke-width="1.7"/>
<line x1="231.5" y1="902.7" x2="231.5" y2="931.5" stroke="#000" stroke-width="1.7"/>
<line x1="237.5" y1="902.7" x2="237.5" y2="931.5" stroke="#000" stroke-width="1.7"/>
<line x1="243.5" y1="902.7" x2="243.5" y2="931.5" stroke="#000" stroke-width="1.7"/>
<line x1="249.5" y1="902.7" x2="249.5" y2="931.5" stroke="#000" stroke-width="1.7"/>
<line x1="255.5" y1="902.7" x2="255.5" y2="931.5" stroke="#000" stroke-width="1.7"/>
<line x1="259.5" y1="902.7" x2="259.5" y2="931.5" stroke="#000" stroke-width="1.7"/>
<line x1="262.5" y1="902.7" x2="262.5" y2="931.5" stroke="#000" stroke-width="1.7"/>
<line x1="267.5" y1="902.7" x2="267.5" y2="931.5" stroke="#000" stroke-width="1.7"/>
<line x1="272.5" y1="902.7" x2="272.5" y2="931.5" stroke="#000" stroke-width="1.7"/>
<line x1="277.5" y1="902.7" x2="277.5" y2="931.5" stroke="#000" stroke-width="1.7"/>
<line x1="281.5" y1="902.7" x2="281.5" y2="931.5" stroke="#000" stroke-width="1.7"/>
<line x1="285.5" y1="902.7" x2="285.5" y2="931.5" stroke="#000" stroke-width="1.7"/>
<line x1="291.5" y1="902.7" x2="291.5" y2="931.5" stroke="#000" stroke-width="1.7"/>
<line x1="293.5" y1="902.7" x2="293.5" y2="931.5" stroke="#000" stroke-width="1.7"/>
<line x1="300.5" y1="902.7" x2="300.5" y2="931.5" stroke="#000" stroke-width="1.7"/>
<line x1="303.5" y1="902.7" x2="303.5" y2="931.5" stroke="#000" stroke-width="1.7"/>
<line x1="310.5" y1="902.7" x2="310.5" y2="931.5" stroke="#000" stroke-width="1.7"/>
<line x1="314.5" y1="902.7" x2="314.5" y2="931.5" stroke="#000" stroke-width="1.7"/>
<line x1="321.5" y1="902.7" x2="321.5" y2="931.5" stroke="#000" stroke-width="1.7"/>
<line x1="324.5" y1="902.7" x2="324.5" y2="931.5" stroke="#000" stroke-width="1.7"/>
<line x1="331.5" y1="902.7" x2="331.5" y2="931.5" stroke="#000" stroke-width="1.7"/>
<line x1="335.5" y1="902.7" x2="335.5" y2="931.5" stroke="#000" stroke-width="1.7"/>
<line x1="341.5" y1="902.7" x2="341.5" y2="931.5" stroke="#000" stroke-width="1.7"/>
<line x1="346.5" y1="902.7" x2="346.5" y2="931.5" stroke="#000" stroke-width="1.7"/>
<line x1="352.5" y1="902.7" x2="352.5" y2="931.5" stroke="#000" stroke-width="1.7"/>
<line x1="358.5" y1="902.7" x2="358.5" y2="931.5" stroke="#000" stroke-width="1.7"/>
<line x1="363.5" y1="902.7" x2="363.5" y2="931.5" stroke="#000" stroke-width="1.7"/>
<line x1="366.5" y1="902.7" x2="366.5" y2="931.5" stroke="#000" stroke-width="1.7"/>
<line x1="370.5" y1="902.7" x2="370.5" y2="931.5" stroke="#000" stroke-width="1.7"/>
<line x1="375.5" y1="902.7" x2="375.5" y2="931.5" stroke="#000" stroke-width="1.7"/>
<line x1="378.5" y1="902.7" x2="378.5" y2="931.5" stroke="#000" stroke-width="1.7"/>
<line x1="382.5" y1="902.7" x2="382.5" y2="931.5" stroke="#000" stroke-width="1.7"/>
<line x1="386.5" y1="902.7" x2="386.5" y2="931.5" stroke="#000" stroke-width="1.7"/>
<line x1="390.5" y1="902.7" x2="390.5" y2="931.5" stroke="#000" stroke-width="1.7"/>
<line x1="394.5" y1="902.7" x2="394.5" y2="931.5" stroke="#000" stroke-width="1.7"/>
<line x1="397.5" y1="902.7" x2="397.5" y2="931.5" stroke="#000" stroke-width="1.7"/>
<line x1="402.5" y1="902.7" x2="402.5" y2="931.5" stroke="#000" stroke-width="1.7"/>
<line x1="406.5" y1="902.7" x2="406.5" y2="931.5" stroke="#000" stroke-width="1.7"/>
<line x1="409.5" y1="902.7" x2="409.5" y2="931.5" stroke="#000" stroke-width="1.7"/>
<line x1="414.5" y1="902.7" x2="414.5" y2="931.5" stroke="#000" stroke-width="1.7"/>
<line x1="418.5" y1="902.7" x2="418.5" y2="931.5" stroke="#000" stroke-width="1.7"/>
<line x1="421.5" y1="902.7" x2="421.5" y2="931.5" stroke="#000" stroke-width="1.7"/>
<line x1="426.5" y1="902.7" x2="426.5" y2="931.5" stroke="#000" stroke-width="1.7"/>
<line x1="430.5" y1="902.7" x2="430.5" y2="931.5" stroke="#000" stroke-width="1.7"/>
<line x1="435.5" y1="902.7" x2="435.5" y2="931.5" stroke="#000" stroke-width="1.7"/>
<line x1="438.5" y1="902.7" x2="438.5" y2="931.5" stroke="#000" stroke-width="1.7"/>
<line x1="442.5" y1="902.7" x2="442.5" y2="931.5" stroke="#000" stroke-width="1.7"/>
<line x1="446.5" y1="902.7" x2="446.5" y2="931.5" stroke="#000" stroke-width="1.7"/>
<line x1="450.5" y1="902.7" x2="450.5" y2="931.5" stroke="#000" stroke-width="1.7"/>
<line x1="454.5" y1="902.7" x2="454.5" y2="931.5" stroke="#000" stroke-width="1.7"/>
<line x1="457.5" y1="902.7" x2="457.5" y2="931.5" stroke="#000" stroke-width="1.7"/>
<line x1="462.5" y1="902.7" x2="462.5" y2="931.5" stroke="#000" stroke-width="1.7"/>
<line x1="466.5" y1="902.7" x2="466.5" y2="931.5" stroke="#000" stroke-width="1.7"/>
<line x1="469.5" y1="902.7" x2="469.5" y2="931.5" stroke="#000" stroke-width="1.7"/>
<line x1="474.5" y1="902.7" x2="474.5" y2="931.5" stroke="#000" stroke-width="1.7"/>
<line x1="478.5" y1="902.7" x2="478.5" y2="931.5" stroke="#000" stroke-width="1.7"/>
<line x1="486.5" y1="902.7" x2="486.5" y2="931.5" stroke="#000" stroke-width="1.7"/>
<line x1="488.5" y1="902.7" x2="488.5" y2="931.5" stroke="#000" stroke-width="1.7"/>
<line x1="497.5" y1="902.7" x2="497.5" y2="931.5" stroke="#000" stroke-width="1.7"/>
<line x1="500.5" y1="902.7" x2="500.5" y2="931.5" stroke="#000" stroke-width="1.7"/>
<line x1="508.5" y1="902.7" x2="508.5" y2="931.5" stroke="#000" stroke-width="1.7"/>
<line x1="511.5" y1="902.7" x2="511.5" y2="931.5" stroke="#000" stroke-width="1.7"/>
<line x1="518.5" y1="902.7" x2="518.5" y2="931.5" stroke="#000" stroke-width="1.7"/>
<line x1="521.5" y1="902.7" x2="521.5" y2="931.5" stroke="#000" stroke-width="1.7"/>
<line x1="529.5" y1="902.7" x2="529.5" y2="931.5" stroke="#000" stroke-width="1.7"/>
<line x1="532.5" y1="902.7" x2="532.5" y2="931.5" stroke="#000" stroke-width="1.7"/>
<line x1="538.5" y1="902.7" x2="538.5" y2="931.5" stroke="#000" stroke-width="1.7"/>
<line x1="541.5" y1="902.7" x2="541.5" y2="931.5" stroke="#000" stroke-width="1.7"/>
<line x1="547.5" y1="902.7" x2="547.5" y2="931.5" stroke="#000" stroke-width="1.7"/>
<line x1="551.5" y1="902.7" x2="551.5" y2="931.5" stroke="#000" stroke-width="1.7"/>
<line x1="555.5" y1="902.7" x2="555.5" y2="931.5" stroke="#000" stroke-width="1.7"/>
<line x1="560.5" y1="902.7" x2="560.5" y2="931.5" stroke="#000" stroke-width="1.7"/>
<line x1="563.5" y1="902.7" x2="563.5" y2="931.5" stroke="#000" stroke-width="1.7"/>
<line x1="568.5" y1="902.7" x2="568.5" y2="931.5" stroke="#000" stroke-width="1.7"/>
<line x1="572.5" y1="902.7" x2="572.5" y2="931.5" stroke="#000" stroke-width="1.7"/>
<line x1="576.5" y1="902.7" x2="576.5" y2="931.5" stroke="#000" stroke-width="1.7"/>
<line x1="581.5" y1="902.7" x2="581.5" y2="931.5" stroke="#000" stroke-width="1.7"/>
<line x1="588.5" y1="902.7" x2="588.5" y2="931.5" stroke="#000" stroke-width="1.7"/>
<line x1="594.5" y1="902.7" x2="594.5" y2="931.5" stroke="#000" stroke-width="1.7"/>
<line x1="599.5" y1="902.7" x2="599.5" y2="931.5" stroke="#000" stroke-width="1.7"/>
<line x1="604.5" y1="902.7" x2="604.5" y2="931.5" stroke="#000" stroke-width="1.7"/>
<line x1="608.5" y1="902.7" x2="608.5" y2="931.5" stroke="#000" stroke-width="1.7"/>
<line x1="612.5" y1="902.7" x2="612.5" y2="931.5" stroke="#000" stroke-width="1.7"/>
<rect x="213.3" y="902.7" width="4.5" height="28.8" fill="#000"/>
<rect x="615.1" y="902.7" width="4.5" height="28.8" fill="#000"/>
<path d="M361.3 932.6 L396 932.6 L396 934.6 Q396 936.8 393.6 936.8 L363.7 936.8 Q361.3 936.8 361.3 934.6 Z" fill="#fff" stroke="#000" stroke-width="1.2" stroke-linejoin="round"/>
<line x1="362.5" y1="933.6" x2="394.8" y2="933.6" stroke="#888" stroke-width="1.1"/>
<path d="M437.1 932.6 L471.6 932.6 L471.6 934.6 Q471.6 936.8 469.20000000000005 936.8 L439.5 936.8 Q437.1 936.8 437.1 934.6 Z" fill="#fff" stroke="#000" stroke-width="1.2" stroke-linejoin="round"/>
<line x1="438.3" y1="933.6" x2="470.4" y2="933.6" stroke="#888" stroke-width="1.1"/>
<line x1="383.5" y1="936.8" x2="383.5" y2="940.4" stroke="#000" stroke-width="1.2"/>
<line x1="449.3" y1="936.8" x2="449.3" y2="940.4" stroke="#000" stroke-width="1.2"/>
<rect x="365.3" y="940.4" width="103.4" height="19.4" rx="1" fill="#fff" stroke="#000" stroke-width="1.6"/>
<line x1="383.5" y1="940.7" x2="449.3" y2="940.7" stroke="#000" stroke-width="2.6"/>
<rect x="629.6" y="932.7" width="28.7" height="2.8" rx="0" fill="#999" stroke="#000" stroke-width="1.1"/>
<rect x="618" y="935.5" width="52" height="3" rx="0" fill="#fff" stroke="#000" stroke-width="1.3"/>
<rect x="613.2" y="938.5" width="60.8" height="4.8" rx="0" fill="#fff" stroke="#000" stroke-width="1.4"/>
<rect x="502.9" y="955.3" width="188.2" height="4.3" rx="0" fill="#fff" stroke="#000" stroke-width="1.4"/>
<rect x="505.3" y="952.3" width="183.8" height="3" rx="0" fill="#fff" stroke="#000" stroke-width="1.3"/>
<rect x="511.1" y="943.3" width="18.8" height="9" rx="0" fill="#fff" stroke="#000" stroke-width="1.4"/>
<path d="M529.9 952.3 L529.9 940.5 L601.6 940.5 L601.6 943.3 L629.6 943.3 L629.6 952.3" fill="#fff" stroke="#000" stroke-width="1.4" stroke-linejoin="round"/>
<rect x="589.3" y="941" width="12.3" height="2.3" rx="1" fill="#bbb" stroke="#000" stroke-width="1.0"/>
<rect x="629.6" y="943.3" width="59.5" height="9" rx="0" fill="#fff" stroke="#000" stroke-width="1.4"/>
<rect x="314.2" y="959.8" width="431.4" height="75.4" rx="0" fill="#fff" stroke="#000" stroke-width="2.0"/>
<line x1="322" y1="960.8" x2="322" y2="1034.2" stroke="#000" stroke-width="1.4"/>
<line x1="358.7" y1="960.8" x2="358.7" y2="1034.2" stroke="#000" stroke-width="1.4"/>
<line x1="473.4" y1="960.8" x2="473.4" y2="1034.2" stroke="#000" stroke-width="1.4"/>
<line x1="510.9" y1="960.8" x2="510.9" y2="1034.2" stroke="#000" stroke-width="1.4"/>
<line x1="549.5" y1="960.8" x2="549.5" y2="1034.2" stroke="#000" stroke-width="1.4"/>
<line x1="586.5" y1="960.8" x2="586.5" y2="1034.2" stroke="#000" stroke-width="1.4"/>
<line x1="700.7" y1="960.8" x2="700.7" y2="1034.2" stroke="#000" stroke-width="1.4"/>
<line x1="738.6" y1="960.8" x2="738.6" y2="1034.2" stroke="#000" stroke-width="1.4"/>
<circle cx="340.4" cy="978.7" r="8.7" fill="#fff" stroke="#000" stroke-width="3.2"/>
<circle cx="340.4" cy="978.7" r="6.1" fill="none" stroke="#000" stroke-width="0.6"/>
<circle cx="340.4" cy="1016.5" r="8.7" fill="#fff" stroke="#000" stroke-width="3.2"/>
<circle cx="340.4" cy="1016.5" r="6.1" fill="none" stroke="#000" stroke-width="0.6"/>
<circle cx="492.2" cy="978.7" r="8.7" fill="#fff" stroke="#000" stroke-width="3.2"/>
<circle cx="492.2" cy="978.7" r="6.1" fill="none" stroke="#000" stroke-width="0.6"/>
<circle cx="492.2" cy="1016.5" r="8.7" fill="#fff" stroke="#000" stroke-width="3.2"/>
<circle cx="492.2" cy="1016.5" r="6.1" fill="none" stroke="#000" stroke-width="0.6"/>
<circle cx="567.9" cy="978.7" r="8.7" fill="#fff" stroke="#000" stroke-width="3.2"/>
<circle cx="567.9" cy="978.7" r="6.1" fill="none" stroke="#000" stroke-width="0.6"/>
<circle cx="567.9" cy="1016.5" r="8.7" fill="#fff" stroke="#000" stroke-width="3.2"/>
<circle cx="567.9" cy="1016.5" r="6.1" fill="none" stroke="#000" stroke-width="0.6"/>
<circle cx="719.6" cy="978.7" r="8.7" fill="#fff" stroke="#000" stroke-width="3.2"/>
<circle cx="719.6" cy="978.7" r="6.1" fill="none" stroke="#000" stroke-width="0.6"/>
<circle cx="719.6" cy="1016.5" r="8.7" fill="#fff" stroke="#000" stroke-width="3.2"/>
<circle cx="719.6" cy="1016.5" r="6.1" fill="none" stroke="#000" stroke-width="0.6"/>
<line x1="340.4" y1="970.5" x2="340.4" y2="987" stroke="#000" stroke-width="1.3"/>
<line x1="340.4" y1="1008.3" x2="340.4" y2="1024.7" stroke="#000" stroke-width="1.3"/>
<line x1="492.2" y1="972" x2="492.2" y2="985" stroke="#000" stroke-width="1.2"/>
<line x1="485.5" y1="985" x2="492.2" y2="985" stroke="#000" stroke-width="1.2"/>
<line x1="485" y1="1019" x2="499.5" y2="1019" stroke="#000" stroke-width="1.4"/>
<line x1="713" y1="983" x2="726.5" y2="983" stroke="#000" stroke-width="1.3"/>
<line x1="712.5" y1="1017.5" x2="726.5" y2="1017.5" stroke="#000" stroke-width="1.4"/>
<path d="M359.5 970.2 L361.6 969.2 L363.1 970.5 L364.7 969.2 L366.2 970.5 L368.2 968.9 L369.6 971.8 L372.4 969.8 L373.2 975.85 L373.2 981.85 L371.6 986.7 L369.6 985.9 L368.2 988.5 L366.2 987.2 L364.7 988.8 L363.1 987.2 L361.6 988.5 L359.5 987.5 Z" fill="#000" stroke="#000" stroke-width="0.5" stroke-linejoin="round"/>
<path d="M359.5 1007.2 L361.6 1006.2 L363.1 1007.5 L364.7 1006.2 L366.2 1007.5 L368.2 1005.9 L369.6 1008.8 L372.4 1006.8 L373.2 1013.5 L373.2 1019.5 L371.6 1025 L369.6 1024.2 L368.2 1026.8 L366.2 1025.5 L364.7 1027.1 L363.1 1025.5 L361.6 1026.8 L359.5 1025.8 Z" fill="#000" stroke="#000" stroke-width="0.5" stroke-linejoin="round"/>
<path d="M700.7 974 Q698.3 978 700.7 983 Z" fill="#000" stroke="#000" stroke-width="0.8" stroke-linejoin="round"/>
<path d="M700.7 1012 Q698.3 1016 700.7 1021 Z" fill="#000" stroke="#000" stroke-width="0.8" stroke-linejoin="round"/>
<rect x="378.5" y="1035.2" width="76.2" height="3.2" rx="0" fill="#aaa" stroke="#000" stroke-width="1.2"/>
<rect x="384.3" y="1038.4" width="63.1" height="3.2" rx="0" fill="#fff" stroke="#000" stroke-width="1.2"/>
<rect x="387.3" y="1041.6" width="57.9" height="12.9" rx="1.5" fill="#fff" stroke="#000" stroke-width="1.8"/>
<path d="M501.7 1035.2 L501.7 1110.4 L504.4 1117 L504.4 1124.8 L689.8 1124.8 L689.8 1117 L693 1110.4 L693 1035.2" fill="none" stroke="#000" stroke-width="1.5" stroke-linejoin="round"/>
<line x1="501.7" y1="1091" x2="693" y2="1091" stroke="#000" stroke-width="1.5"/>
<line x1="501.7" y1="1110.4" x2="693" y2="1110.4" stroke="#000" stroke-width="1.5"/>
<rect x="504.4" y="1117.6" width="19.8" height="7.2" rx="0" fill="#fff" stroke="#000" stroke-width="1.3"/>
<rect x="670" y="1117.6" width="19.8" height="7.2" rx="0" fill="#fff" stroke="#000" stroke-width="1.3"/>
<rect x="693" y="1088.8" width="5.8" height="21.6" rx="0" fill="#fff" stroke="#000" stroke-width="1.3"/>
<path d="M698.8 1093.3 L717.8 1095 L717.8 1104 L698.8 1105.5 Z" fill="#fff" stroke="#000" stroke-width="1.3" stroke-linejoin="round"/>
<line x1="213.3" y1="821.7" x2="213.3" y2="893.3" stroke="#000" stroke-width="1.4"/>
<line x1="745.8" y1="821.5" x2="745.8" y2="960" stroke="#000" stroke-width="1.4"/>
<line x1="745.8" y1="1043.9" x2="745.8" y2="1211" stroke="#000" stroke-width="1.4"/>
<line x1="215" y1="830.1" x2="428" y2="830.1" stroke="#000" stroke-width="1.4"/>
<path d="M213.9 830.1 L228.4 827.4 L227.39 830.1 L228.4 832.8 Z" fill="#000" stroke="none"/>
<line x1="530" y1="830.1" x2="744" y2="830.1" stroke="#000" stroke-width="1.4"/>
<path d="M745.2 830.1 L730.7 832.8 L731.72 830.1 L730.7 827.4 Z" fill="#000" stroke="none"/>
<text x="435.8" y="836.8" font-size="20" font-family="Liberation Sans" fill="#000" font-weight="normal" text-anchor="start" textLength="82.4" lengthAdjust="spacingAndGlyphs">112.3mm</text>
<line x1="86.7" y1="884" x2="333.3" y2="884" stroke="#000" stroke-width="1.4"/>
<line x1="86.7" y1="1054.3" x2="380" y2="1054.3" stroke="#000" stroke-width="1.4"/>
<line x1="94.3" y1="886" x2="94.3" y2="956.7" stroke="#000" stroke-width="1.4"/>
<path d="M94.3 884.6 L97 899.1 L94.3 898.09 L91.6 899.1 Z" fill="#000" stroke="none"/>
<line x1="94.3" y1="983.3" x2="94.3" y2="1052.5" stroke="#000" stroke-width="1.4"/>
<path d="M94.3 1053.7 L91.6 1039.2 L94.3 1040.22 L97 1039.2 Z" fill="#000" stroke="none"/>
<text x="65.8" y="976.2" font-size="20" font-family="Liberation Sans" fill="#000" font-weight="normal" text-anchor="start" textLength="55.5" lengthAdjust="spacingAndGlyphs">36mm</text>
<line x1="159.3" y1="979" x2="331.5" y2="979" stroke="#000" stroke-width="1.4"/>
<line x1="166.7" y1="886" x2="166.7" y2="916.7" stroke="#000" stroke-width="1.4"/>
<path d="M166.7 884.6 L169.4 899.1 L166.7 898.09 L164 899.1 Z" fill="#000" stroke="none"/>
<line x1="166.7" y1="945.3" x2="166.7" y2="977.5" stroke="#000" stroke-width="1.4"/>
<path d="M166.7 978.4 L164 963.9 L166.7 964.91 L169.4 963.9 Z" fill="#000" stroke="none"/>
<text x="137.5" y="938.5" font-size="20" font-family="Liberation Sans" fill="#000" font-weight="normal" text-anchor="start" textLength="56.7" lengthAdjust="spacingAndGlyphs">20mm</text>
<line x1="340.4" y1="1025.5" x2="340.4" y2="1095" stroke="#000" stroke-width="1.4"/>
<line x1="492.2" y1="1025.5" x2="492.2" y2="1155" stroke="#000" stroke-width="1.4"/>
<line x1="342" y1="1086" x2="381" y2="1086" stroke="#000" stroke-width="1.4"/>
<path d="M341 1086 L355.5 1083.3 L354.49 1086 L355.5 1088.7 Z" fill="#000" stroke="none"/>
<line x1="451" y1="1086" x2="490.5" y2="1086" stroke="#000" stroke-width="1.4"/>
<path d="M491.6 1086 L477.1 1088.7 L478.12 1086 L477.1 1083.3 Z" fill="#000" stroke="none"/>
<text x="386.5" y="1093.5" font-size="20" font-family="Liberation Sans" fill="#000" font-weight="normal" text-anchor="start" textLength="57" lengthAdjust="spacingAndGlyphs">32mm</text>
<line x1="567.9" y1="1025.5" x2="567.9" y2="1155" stroke="#000" stroke-width="1.4"/>
<line x1="463.3" y1="1146.7" x2="480" y2="1146.7" stroke="#000" stroke-width="1.4"/>
<path d="M491.6 1146.7 L477.1 1149.4 L478.12 1146.7 L477.1 1144 Z" fill="#000" stroke="none"/>
<line x1="596" y1="1146.7" x2="580" y2="1146.7" stroke="#000" stroke-width="1.4"/>
<path d="M568.5 1146.7 L583 1144 L581.99 1146.7 L583 1149.4 Z" fill="#000" stroke="none"/>
<text x="501" y="1154" font-size="20" font-family="Liberation Sans" fill="#000" font-weight="normal" text-anchor="start" textLength="55.3" lengthAdjust="spacingAndGlyphs">16mm</text>
<line x1="752.9" y1="1035.6" x2="807.2" y2="1035.6" stroke="#000" stroke-width="1.4"/>
<line x1="694.6" y1="1123.6" x2="807.2" y2="1123.6" stroke="#000" stroke-width="1.4"/>
<line x1="798.9" y1="1037.5" x2="798.9" y2="1063" stroke="#000" stroke-width="1.4"/>
<path d="M798.9 1036.2 L801.6 1050.7 L798.9 1049.68 L796.2 1050.7 Z" fill="#000" stroke="none"/>
<line x1="798.9" y1="1094" x2="798.9" y2="1122" stroke="#000" stroke-width="1.4"/>
<path d="M798.9 1123 L796.2 1108.5 L798.9 1109.52 L801.6 1108.5 Z" fill="#000" stroke="none"/>
<text x="761" y="1087.6" font-size="20" font-family="Liberation Sans" fill="#000" font-weight="normal" text-anchor="start" textLength="71.2" lengthAdjust="spacingAndGlyphs">18.7mm</text>
<line x1="314.3" y1="1043" x2="314.3" y2="1211.7" stroke="#000" stroke-width="1.4"/>
<line x1="316" y1="1203.3" x2="494" y2="1203.3" stroke="#000" stroke-width="1.4"/>
<path d="M314.9 1203.3 L329.4 1200.6 L328.38 1203.3 L329.4 1206 Z" fill="#000" stroke="none"/>
<line x1="566" y1="1203.3" x2="744" y2="1203.3" stroke="#000" stroke-width="1.4"/>
<path d="M745.2 1203.3 L730.7 1206 L731.72 1203.3 L730.7 1200.6 Z" fill="#000" stroke="none"/>
<text x="500.5" y="1210.6" font-size="20" font-family="Liberation Sans" fill="#000" font-weight="normal" text-anchor="start" textLength="56.3" lengthAdjust="spacingAndGlyphs">91mm</text>
<text x="782" y="944.4" font-size="20" font-family="Liberation Sans" fill="#000" font-weight="normal" text-anchor="start" textLength="110.7" lengthAdjust="spacingAndGlyphs">M4 x 0.7mm</text>
<text x="783.3" y="969.5" font-size="20" font-family="Liberation Sans" fill="#000" font-weight="normal" text-anchor="start" textLength="71.6" lengthAdjust="spacingAndGlyphs">Thru-All</text>
<line x1="776" y1="937" x2="763.6" y2="937" stroke="#000" stroke-width="1.4"/>
<line x1="763.6" y1="937" x2="733" y2="966" stroke="#000" stroke-width="1.4"/>
<path d="M727.6 971.2 L736.29 959.28 L737.4 961.94 L740 963.21 Z" fill="#000" stroke="none"/>
<rect x="1082" y="884" width="151.3" height="18.4" rx="1.5" fill="#fff" stroke="#000" stroke-width="2.0"/>
<rect x="1144.2" y="896.4" width="27.2" height="6" rx="1" fill="#fff" stroke="#000" stroke-width="1.3"/>
<rect x="954.1" y="902.4" width="406.4" height="30" rx="0" fill="#fff" stroke="#000" stroke-width="1.5"/>
<line x1="960.5" y1="902.4" x2="960.5" y2="932.4" stroke="#000" stroke-width="1.7"/>
<line x1="964.5" y1="902.4" x2="964.5" y2="932.4" stroke="#000" stroke-width="1.7"/>
<line x1="968.5" y1="902.4" x2="968.5" y2="932.4" stroke="#000" stroke-width="1.7"/>
<line x1="971.5" y1="902.4" x2="971.5" y2="932.4" stroke="#000" stroke-width="1.7"/>
<line x1="976.5" y1="902.4" x2="976.5" y2="932.4" stroke="#000" stroke-width="1.7"/>
<line x1="982.5" y1="902.4" x2="982.5" y2="932.4" stroke="#000" stroke-width="1.7"/>
<line x1="988.5" y1="902.4" x2="988.5" y2="932.4" stroke="#000" stroke-width="1.7"/>
<line x1="995.5" y1="902.4" x2="995.5" y2="932.4" stroke="#000" stroke-width="1.7"/>
<line x1="999.5" y1="902.4" x2="999.5" y2="932.4" stroke="#000" stroke-width="1.7"/>
<line x1="1003.5" y1="902.4" x2="1003.5" y2="932.4" stroke="#000" stroke-width="1.7"/>
<line x1="1006.5" y1="902.4" x2="1006.5" y2="932.4" stroke="#000" stroke-width="1.7"/>
<line x1="1011.5" y1="902.4" x2="1011.5" y2="932.4" stroke="#000" stroke-width="1.7"/>
<line x1="1014.5" y1="902.4" x2="1014.5" y2="932.4" stroke="#000" stroke-width="1.7"/>
<line x1="1020.5" y1="902.4" x2="1020.5" y2="932.4" stroke="#000" stroke-width="1.7"/>
<line x1="1024.5" y1="902.4" x2="1024.5" y2="932.4" stroke="#000" stroke-width="1.7"/>
<line x1="1029.5" y1="902.4" x2="1029.5" y2="932.4" stroke="#000" stroke-width="1.7"/>
<line x1="1032.5" y1="902.4" x2="1032.5" y2="932.4" stroke="#000" stroke-width="1.7"/>
<line x1="1039.5" y1="902.4" x2="1039.5" y2="932.4" stroke="#000" stroke-width="1.7"/>
<line x1="1041.5" y1="902.4" x2="1041.5" y2="932.4" stroke="#000" stroke-width="1.7"/>
<line x1="1049.5" y1="902.4" x2="1049.5" y2="932.4" stroke="#000" stroke-width="1.7"/>
<line x1="1052.5" y1="902.4" x2="1052.5" y2="932.4" stroke="#000" stroke-width="1.7"/>
<line x1="1059.5" y1="902.4" x2="1059.5" y2="932.4" stroke="#000" stroke-width="1.7"/>
<line x1="1062.5" y1="902.4" x2="1062.5" y2="932.4" stroke="#000" stroke-width="1.7"/>
<line x1="1069.5" y1="902.4" x2="1069.5" y2="932.4" stroke="#000" stroke-width="1.7"/>
<line x1="1073.5" y1="902.4" x2="1073.5" y2="932.4" stroke="#000" stroke-width="1.7"/>
<line x1="1080.5" y1="902.4" x2="1080.5" y2="932.4" stroke="#000" stroke-width="1.7"/>
<line x1="1084.5" y1="902.4" x2="1084.5" y2="932.4" stroke="#000" stroke-width="1.7"/>
<line x1="1090.5" y1="902.4" x2="1090.5" y2="932.4" stroke="#000" stroke-width="1.7"/>
<line x1="1096.5" y1="902.4" x2="1096.5" y2="932.4" stroke="#000" stroke-width="1.7"/>
<line x1="1101.5" y1="902.4" x2="1101.5" y2="932.4" stroke="#000" stroke-width="1.7"/>
<line x1="1108.5" y1="902.4" x2="1108.5" y2="932.4" stroke="#000" stroke-width="1.7"/>
<line x1="1113.5" y1="902.4" x2="1113.5" y2="932.4" stroke="#000" stroke-width="1.7"/>
<line x1="1116.5" y1="902.4" x2="1116.5" y2="932.4" stroke="#000" stroke-width="1.7"/>
<line x1="1119.5" y1="902.4" x2="1119.5" y2="932.4" stroke="#000" stroke-width="1.7"/>
<line x1="1124.5" y1="902.4" x2="1124.5" y2="932.4" stroke="#000" stroke-width="1.7"/>
<line x1="1128.5" y1="902.4" x2="1128.5" y2="932.4" stroke="#000" stroke-width="1.7"/>
<line x1="1131.5" y1="902.4" x2="1131.5" y2="932.4" stroke="#000" stroke-width="1.7"/>
<line x1="1135.5" y1="902.4" x2="1135.5" y2="932.4" stroke="#000" stroke-width="1.7"/>
<line x1="1140.5" y1="902.4" x2="1140.5" y2="932.4" stroke="#000" stroke-width="1.7"/>
<line x1="1143.5" y1="902.4" x2="1143.5" y2="932.4" stroke="#000" stroke-width="1.7"/>
<line x1="1147.5" y1="902.4" x2="1147.5" y2="932.4" stroke="#000" stroke-width="1.7"/>
<line x1="1152.5" y1="902.4" x2="1152.5" y2="932.4" stroke="#000" stroke-width="1.7"/>
<line x1="1156.5" y1="902.4" x2="1156.5" y2="932.4" stroke="#000" stroke-width="1.7"/>
<line x1="1159.5" y1="902.4" x2="1159.5" y2="932.4" stroke="#000" stroke-width="1.7"/>
<line x1="1164.5" y1="902.4" x2="1164.5" y2="932.4" stroke="#000" stroke-width="1.7"/>
<line x1="1168.5" y1="902.4" x2="1168.5" y2="932.4" stroke="#000" stroke-width="1.7"/>
<line x1="1172.5" y1="902.4" x2="1172.5" y2="932.4" stroke="#000" stroke-width="1.7"/>
<line x1="1176.5" y1="902.4" x2="1176.5" y2="932.4" stroke="#000" stroke-width="1.7"/>
<line x1="1180.5" y1="902.4" x2="1180.5" y2="932.4" stroke="#000" stroke-width="1.7"/>
<line x1="1184.5" y1="902.4" x2="1184.5" y2="932.4" stroke="#000" stroke-width="1.7"/>
<line x1="1188.5" y1="902.4" x2="1188.5" y2="932.4" stroke="#000" stroke-width="1.7"/>
<line x1="1192.5" y1="902.4" x2="1192.5" y2="932.4" stroke="#000" stroke-width="1.7"/>
<line x1="1195.5" y1="902.4" x2="1195.5" y2="932.4" stroke="#000" stroke-width="1.7"/>
<line x1="1200.5" y1="902.4" x2="1200.5" y2="932.4" stroke="#000" stroke-width="1.7"/>
<line x1="1204.5" y1="902.4" x2="1204.5" y2="932.4" stroke="#000" stroke-width="1.7"/>
<line x1="1207.5" y1="902.4" x2="1207.5" y2="932.4" stroke="#000" stroke-width="1.7"/>
<line x1="1212.5" y1="902.4" x2="1212.5" y2="932.4" stroke="#000" stroke-width="1.7"/>
<line x1="1215.5" y1="902.4" x2="1215.5" y2="932.4" stroke="#000" stroke-width="1.7"/>
<line x1="1223.5" y1="902.4" x2="1223.5" y2="932.4" stroke="#000" stroke-width="1.7"/>
<line x1="1227.5" y1="902.4" x2="1227.5" y2="932.4" stroke="#000" stroke-width="1.7"/>
<line x1="1235.5" y1="902.4" x2="1235.5" y2="932.4" stroke="#000" stroke-width="1.7"/>
<line x1="1238.5" y1="902.4" x2="1238.5" y2="932.4" stroke="#000" stroke-width="1.7"/>
<line x1="1246.5" y1="902.4" x2="1246.5" y2="932.4" stroke="#000" stroke-width="1.7"/>
<line x1="1249.5" y1="902.4" x2="1249.5" y2="932.4" stroke="#000" stroke-width="1.7"/>
<line x1="1257.5" y1="902.4" x2="1257.5" y2="932.4" stroke="#000" stroke-width="1.7"/>
<line x1="1260.5" y1="902.4" x2="1260.5" y2="932.4" stroke="#000" stroke-width="1.7"/>
<line x1="1267.5" y1="902.4" x2="1267.5" y2="932.4" stroke="#000" stroke-width="1.7"/>
<line x1="1270.5" y1="902.4" x2="1270.5" y2="932.4" stroke="#000" stroke-width="1.7"/>
<line x1="1277.5" y1="902.4" x2="1277.5" y2="932.4" stroke="#000" stroke-width="1.7"/>
<line x1="1280.5" y1="902.4" x2="1280.5" y2="932.4" stroke="#000" stroke-width="1.7"/>
<line x1="1286.5" y1="902.4" x2="1286.5" y2="932.4" stroke="#000" stroke-width="1.7"/>
<line x1="1289.5" y1="902.4" x2="1289.5" y2="932.4" stroke="#000" stroke-width="1.7"/>
<line x1="1294.5" y1="902.4" x2="1294.5" y2="932.4" stroke="#000" stroke-width="1.7"/>
<line x1="1298.5" y1="902.4" x2="1298.5" y2="932.4" stroke="#000" stroke-width="1.7"/>
<line x1="1302.5" y1="902.4" x2="1302.5" y2="932.4" stroke="#000" stroke-width="1.7"/>
<line x1="1307.5" y1="902.4" x2="1307.5" y2="932.4" stroke="#000" stroke-width="1.7"/>
<line x1="1311.5" y1="902.4" x2="1311.5" y2="932.4" stroke="#000" stroke-width="1.7"/>
<line x1="1315.5" y1="902.4" x2="1315.5" y2="932.4" stroke="#000" stroke-width="1.7"/>
<line x1="1318.5" y1="902.4" x2="1318.5" y2="932.4" stroke="#000" stroke-width="1.7"/>
<line x1="1322.5" y1="902.4" x2="1322.5" y2="932.4" stroke="#000" stroke-width="1.7"/>
<line x1="1327.5" y1="902.4" x2="1327.5" y2="932.4" stroke="#000" stroke-width="1.7"/>
<line x1="1333.5" y1="902.4" x2="1333.5" y2="932.4" stroke="#000" stroke-width="1.7"/>
<line x1="1339.5" y1="902.4" x2="1339.5" y2="932.4" stroke="#000" stroke-width="1.7"/>
<line x1="1344.5" y1="902.4" x2="1344.5" y2="932.4" stroke="#000" stroke-width="1.7"/>
<line x1="1348.5" y1="902.4" x2="1348.5" y2="932.4" stroke="#000" stroke-width="1.7"/>
<line x1="1352.5" y1="902.4" x2="1352.5" y2="932.4" stroke="#000" stroke-width="1.7"/>
<rect x="954.1" y="902.4" width="4.5" height="30" fill="#000"/>
<rect x="1356" y="902.4" width="4.5" height="30" fill="#000"/>
<path d="M1103 932.6 L1212.5 932.6 L1212.5 934.4 Q1212.5 936.4 1210 936.4 L1105.5 936.4 Q1103 936.4 1103 934.4 Z" fill="#fff" stroke="#000" stroke-width="1.3" stroke-linejoin="round"/>
<line x1="1104.5" y1="933.7" x2="1211" y2="933.7" stroke="#888" stroke-width="1.1"/>
<rect x="1106.8" y="940.6" width="101.7" height="19" rx="0" fill="#fff" stroke="#000" stroke-width="1.6"/>
<rect x="1110.4" y="942.8" width="95.2" height="16.8" rx="0" fill="#fff" stroke="#000" stroke-width="1.2"/>
<line x1="1111" y1="952.4" x2="1205" y2="952.4" stroke="#000" stroke-width="1.2"/>
<line x1="1111" y1="954.8" x2="1205" y2="954.8" stroke="#000" stroke-width="1.0"/>
<rect x="1127.2" y="938.8" width="60.8" height="4" rx="0" fill="#fff" stroke="#000" stroke-width="1.2"/>
<rect x="1055.9" y="959.6" width="203.9" height="76" rx="0" fill="#fff" stroke="#000" stroke-width="2.0"/>
<line x1="1063" y1="960.6" x2="1063" y2="1034.6" stroke="#000" stroke-width="1.4"/>
<line x1="1252.7" y1="960.6" x2="1252.7" y2="1034.6" stroke="#000" stroke-width="1.4"/>
<circle cx="1082" cy="979" r="8.8" fill="#fff" stroke="#000" stroke-width="3.3"/>
<circle cx="1082" cy="979" r="6.1" fill="none" stroke="#000" stroke-width="0.6"/>
<circle cx="1082" cy="1016.2" r="8.8" fill="#fff" stroke="#000" stroke-width="3.3"/>
<circle cx="1082" cy="1016.2" r="6.1" fill="none" stroke="#000" stroke-width="0.6"/>
<circle cx="1233.3" cy="979" r="8.8" fill="#fff" stroke="#000" stroke-width="3.3"/>
<circle cx="1233.3" cy="979" r="6.1" fill="none" stroke="#000" stroke-width="0.6"/>
<circle cx="1233.3" cy="1016.2" r="8.8" fill="#fff" stroke="#000" stroke-width="3.3"/>
<circle cx="1233.3" cy="1016.2" r="6.1" fill="none" stroke="#000" stroke-width="0.6"/>
<path d="M1110.3 1035.6 L1110.3 1109 L1113 1116 L1113 1124.3 L1203 1124.3 L1203 1116 L1205.7 1109 L1205.7 1035.6" fill="none" stroke="#000" stroke-width="1.5" stroke-linejoin="round"/>
<line x1="1110.3" y1="1091.4" x2="1205.7" y2="1091.4" stroke="#000" stroke-width="1.5"/>
<line x1="1110.3" y1="1109" x2="1205.7" y2="1109" stroke="#000" stroke-width="1.5"/>
<rect x="1113.5" y="1117.5" width="19" height="6.8" rx="0" fill="#fff" stroke="#000" stroke-width="1.3"/>
<rect x="1183.5" y="1117.5" width="19" height="6.8" rx="0" fill="#fff" stroke="#000" stroke-width="1.3"/>
<rect x="1141.4" y="1089" width="32.5" height="20" rx="2" fill="#fff" stroke="#000" stroke-width="1.4"/>
<rect x="1147" y="1094" width="21" height="9.5" rx="1" fill="#fff" stroke="#000" stroke-width="1.3"/>
<line x1="1144" y1="1105.8" x2="1171" y2="1105.8" stroke="#000" stroke-width="1.0"/>
<line x1="1240.4" y1="884" x2="1424" y2="884" stroke="#000" stroke-width="1.4"/>
<line x1="1208.5" y1="1124.3" x2="1424" y2="1124.3" stroke="#000" stroke-width="1.4"/>
<line x1="1416" y1="886" x2="1416" y2="990" stroke="#000" stroke-width="1.4"/>
<path d="M1416 884.6 L1418.7 899.1 L1416 898.09 L1413.3 899.1 Z" fill="#000" stroke="none"/>
<line x1="1416" y1="1017" x2="1416" y2="1122.5" stroke="#000" stroke-width="1.4"/>
<path d="M1416 1123.7 L1413.3 1109.2 L1416 1110.22 L1418.7 1109.2 Z" fill="#000" stroke="none"/>
<text x="1378" y="1011.4" font-size="20" font-family="Liberation Sans" fill="#000" font-weight="normal" text-anchor="start" textLength="71.7" lengthAdjust="spacingAndGlyphs">50.7mm</text>
<line x1="1266.8" y1="959.6" x2="1335.7" y2="959.6" stroke="#000" stroke-width="1.4"/>
<line x1="1266.8" y1="1035.6" x2="1335.7" y2="1035.6" stroke="#000" stroke-width="1.4"/>
<line x1="1328" y1="961.5" x2="1328" y2="980" stroke="#000" stroke-width="1.4"/>
<path d="M1328 960.2 L1330.7 974.7 L1328 973.69 L1325.3 974.7 Z" fill="#000" stroke="none"/>
<line x1="1328" y1="1011" x2="1328" y2="1034" stroke="#000" stroke-width="1.4"/>
<path d="M1328 1035 L1325.3 1020.5 L1328 1021.51 L1330.7 1020.5 Z" fill="#000" stroke="none"/>
<text x="1298.5" y="1005.1" font-size="20" font-family="Liberation Sans" fill="#000" font-weight="normal" text-anchor="start" textLength="55.8" lengthAdjust="spacingAndGlyphs">16mm</text>
<line x1="996.5" y1="979" x2="1074.3" y2="979" stroke="#000" stroke-width="1.4"/>
<line x1="996.5" y1="1016.2" x2="1074.3" y2="1016.2" stroke="#000" stroke-width="1.4"/>
<line x1="1004.3" y1="950" x2="1004.3" y2="966" stroke="#000" stroke-width="1.4"/>
<path d="M1004.3 978.4 L1001.6 963.9 L1004.3 964.91 L1007 963.9 Z" fill="#000" stroke="none"/>
<line x1="1004.3" y1="1045.5" x2="1004.3" y2="1029" stroke="#000" stroke-width="1.4"/>
<path d="M1004.3 1016.8 L1007 1031.3 L1004.3 1030.28 L1001.6 1031.3 Z" fill="#000" stroke="none"/>
<text x="980.4" y="1005.1" font-size="20" font-family="Liberation Sans" fill="#000" font-weight="normal" text-anchor="start" textLength="45.3" lengthAdjust="spacingAndGlyphs">8mm</text>
<line x1="1082" y1="1025" x2="1082" y2="1155" stroke="#000" stroke-width="1.4"/>
<line x1="1233.3" y1="1025" x2="1233.3" y2="1155" stroke="#000" stroke-width="1.4"/>
<line x1="1084" y1="1147" x2="1123" y2="1147" stroke="#000" stroke-width="1.4"/>
<path d="M1082.6 1147 L1097.1 1144.3 L1096.08 1147 L1097.1 1149.7 Z" fill="#000" stroke="none"/>
<line x1="1190" y1="1147" x2="1231.5" y2="1147" stroke="#000" stroke-width="1.4"/>
<path d="M1232.7 1147 L1218.2 1149.7 L1219.22 1147 L1218.2 1144.3 Z" fill="#000" stroke="none"/>
<text x="1128.1" y="1154.2" font-size="20" font-family="Liberation Sans" fill="#000" font-weight="normal" text-anchor="start" textLength="55.9" lengthAdjust="spacingAndGlyphs">32mm</text>
<line x1="1055.9" y1="1043.7" x2="1055.9" y2="1201" stroke="#000" stroke-width="1.4"/>
<line x1="1259.8" y1="1043.7" x2="1259.8" y2="1201" stroke="#000" stroke-width="1.4"/>
<line x1="1058" y1="1192.9" x2="1123" y2="1192.9" stroke="#000" stroke-width="1.4"/>
<path d="M1056.5 1192.9 L1071 1190.2 L1069.98 1192.9 L1071 1195.6 Z" fill="#000" stroke="none"/>
<line x1="1190" y1="1192.9" x2="1258" y2="1192.9" stroke="#000" stroke-width="1.4"/>
<path d="M1259.2 1192.9 L1244.7 1195.6 L1245.72 1192.9 L1244.7 1190.2 Z" fill="#000" stroke="none"/>
<text x="1128.1" y="1200.1" font-size="20" font-family="Liberation Sans" fill="#000" font-weight="normal" text-anchor="start" textLength="55.9" lengthAdjust="spacingAndGlyphs">43mm</text>
<text x="1333.2" y="1431.8" font-size="36" font-family="Liberation Sans" fill="#000" font-weight="normal" text-anchor="start" stroke="#000" stroke-width="0.5" textLength="136.3" lengthAdjust="spacingAndGlyphs">Patented</text>
<text x="31" y="1466.2" font-size="19.5" font-family="Liberation Sans" fill="#1a1a1a" font-weight="normal" text-anchor="start" textLength="81.7" lengthAdjust="spacingAndGlyphs">Copyright</text>
<text x="117.1" y="1466.2" font-size="19.5" font-family="Liberation Sans" fill="#1a1a1a" font-weight="normal" text-anchor="start" textLength="105.9" lengthAdjust="spacingAndGlyphs">Robotzone®</text>
<text x="227.4" y="1466.2" font-size="19.5" font-family="Liberation Sans" fill="#1a1a1a" font-weight="normal" text-anchor="start" textLength="36.4" lengthAdjust="spacingAndGlyphs">LLC.</text>
<text x="273" y="1466.2" font-size="19.5" font-family="Liberation Sans" fill="#1a1a1a" font-weight="normal" text-anchor="start" textLength="23.4" lengthAdjust="spacingAndGlyphs">All</text>
<text x="300.8" y="1466.2" font-size="19.5" font-family="Liberation Sans" fill="#1a1a1a" font-weight="normal" text-anchor="start" textLength="51.4" lengthAdjust="spacingAndGlyphs">Rights</text>
<text x="356.6" y="1466.2" font-size="19.5" font-family="Liberation Sans" fill="#1a1a1a" font-weight="normal" text-anchor="start" textLength="81.9" lengthAdjust="spacingAndGlyphs">Reserved.</text>
<text x="442.9" y="1466.2" font-size="19.5" font-family="Liberation Sans" fill="#1a1a1a" font-weight="normal" text-anchor="start" textLength="23.5" lengthAdjust="spacingAndGlyphs">No</text>
<text x="470.8" y="1466.2" font-size="19.5" font-family="Liberation Sans" fill="#1a1a1a" font-weight="normal" text-anchor="start" textLength="34.9" lengthAdjust="spacingAndGlyphs">part</text>
<text x="510.1" y="1466.2" font-size="19.5" font-family="Liberation Sans" fill="#1a1a1a" font-weight="normal" text-anchor="start" textLength="17.1" lengthAdjust="spacingAndGlyphs">of</text>
<text x="531.6" y="1466.2" font-size="19.5" font-family="Liberation Sans" fill="#1a1a1a" font-weight="normal" text-anchor="start" textLength="31.1" lengthAdjust="spacingAndGlyphs">this</text>
<text x="567.1" y="1466.2" font-size="19.5" font-family="Liberation Sans" fill="#1a1a1a" font-weight="normal" text-anchor="start" textLength="48.8" lengthAdjust="spacingAndGlyphs">image</text>
<text x="620.3" y="1466.2" font-size="19.5" font-family="Liberation Sans" fill="#1a1a1a" font-weight="normal" text-anchor="start" textLength="37.4" lengthAdjust="spacingAndGlyphs">may</text>
<text x="662.1" y="1466.2" font-size="19.5" font-family="Liberation Sans" fill="#1a1a1a" font-weight="normal" text-anchor="start" textLength="23.5" lengthAdjust="spacingAndGlyphs">be</text>
<text x="690" y="1466.2" font-size="19.5" font-family="Liberation Sans" fill="#1a1a1a" font-weight="normal" text-anchor="start" textLength="95.9" lengthAdjust="spacingAndGlyphs">reproduced</text>
<text x="790.3" y="1466.2" font-size="19.5" font-family="Liberation Sans" fill="#1a1a1a" font-weight="normal" text-anchor="start" textLength="14.6" lengthAdjust="spacingAndGlyphs">in</text>
<text x="809.3" y="1466.2" font-size="19.5" font-family="Liberation Sans" fill="#1a1a1a" font-weight="normal" text-anchor="start" textLength="29.8" lengthAdjust="spacingAndGlyphs">any</text>
<text x="843.5" y="1466.2" font-size="19.5" font-family="Liberation Sans" fill="#1a1a1a" font-weight="normal" text-anchor="start" textLength="39.9" lengthAdjust="spacingAndGlyphs">form</text>
<text x="887.8" y="1466.2" font-size="19.5" font-family="Liberation Sans" fill="#1a1a1a" font-weight="normal" text-anchor="start" textLength="18.4" lengthAdjust="spacingAndGlyphs">or</text>
<text x="910.6" y="1466.2" font-size="19.5" font-family="Liberation Sans" fill="#1a1a1a" font-weight="normal" text-anchor="start" textLength="19.7" lengthAdjust="spacingAndGlyphs">by</text>
<text x="934.7" y="1466.2" font-size="19.5" font-family="Liberation Sans" fill="#1a1a1a" font-weight="normal" text-anchor="start" textLength="31" lengthAdjust="spacingAndGlyphs">any</text>
<text x="970.1" y="1466.2" font-size="19.5" font-family="Liberation Sans" fill="#1a1a1a" font-weight="normal" text-anchor="start" textLength="56.5" lengthAdjust="spacingAndGlyphs">means</text>
<text x="1031" y="1466.2" font-size="19.5" font-family="Liberation Sans" fill="#1a1a1a" font-weight="normal" text-anchor="start" textLength="65.2" lengthAdjust="spacingAndGlyphs">without</text>
<text x="1100.6" y="1466.2" font-size="19.5" font-family="Liberation Sans" fill="#1a1a1a" font-weight="normal" text-anchor="start" textLength="92.1" lengthAdjust="spacingAndGlyphs">permission</text>
<text x="1197.1" y="1466.2" font-size="19.5" font-family="Liberation Sans" fill="#1a1a1a" font-weight="normal" text-anchor="start" textLength="15.9" lengthAdjust="spacingAndGlyphs">in</text>
<text x="1217.4" y="1466.2" font-size="19.5" font-family="Liberation Sans" fill="#1a1a1a" font-weight="normal" text-anchor="start" textLength="56.4" lengthAdjust="spacingAndGlyphs">writing</text>
<text x="1278.2" y="1466.2" font-size="19.5" font-family="Liberation Sans" fill="#1a1a1a" font-weight="normal" text-anchor="start" textLength="40" lengthAdjust="spacingAndGlyphs">from</text>
<text x="1322.6" y="1466.2" font-size="19.5" font-family="Liberation Sans" fill="#1a1a1a" font-weight="normal" text-anchor="start" textLength="107" lengthAdjust="spacingAndGlyphs">Robotzone®</text>
<text x="1434" y="1466.2" font-size="19.5" font-family="Liberation Sans" fill="#1a1a1a" font-weight="normal" text-anchor="start" textLength="35.6" lengthAdjust="spacingAndGlyphs">LLC.</text>
</svg></body></html>
